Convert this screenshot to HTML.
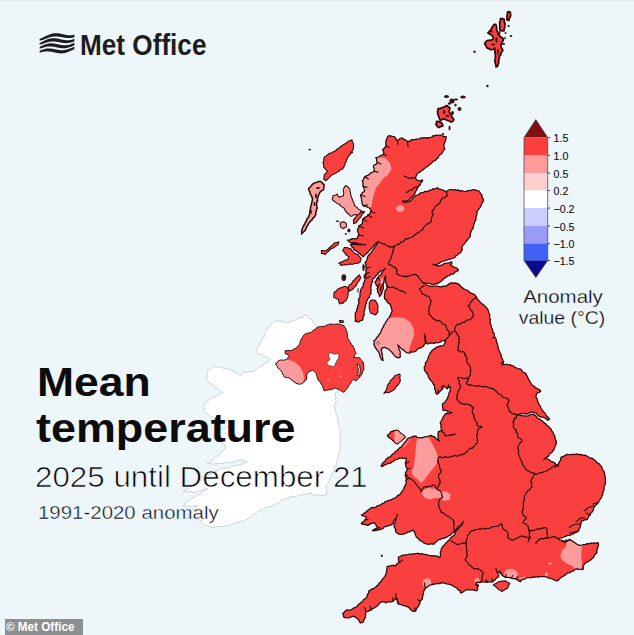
<!DOCTYPE html>
<html><head><meta charset="utf-8"><title>Mean temperature anomaly</title>
<style>
html,body{margin:0;padding:0}
body{width:634px;height:635px;overflow:hidden;background:#edf6f9;font-family:"Liberation Sans",sans-serif;position:relative;color:#111}
.abs{position:absolute;white-space:nowrap;line-height:1}
.tk{position:absolute;left:553.6px;font-size:10.6px;line-height:11px;color:#111;white-space:nowrap;-webkit-text-stroke:0.12px #111;transform-origin:left center;transform:scaleX(1.0)}
#mo{left:79.5px;top:30.6px;font-size:28.6px;font-weight:bold;color:#1d1d1d;transform-origin:left top;transform:scaleX(.915)}
#t1{left:37.4px;top:362.1px;font-size:41px;transform:scaleX(1.085);font-weight:bold;color:#0c0c0c;transform-origin:left top}
#t2{left:36.2px;top:408px;font-size:41px;transform:scaleX(1.095);font-weight:bold;color:#0c0c0c;transform-origin:left top}
#t3{left:35.4px;top:463.4px;font-size:28.6px;-webkit-text-stroke:0.7px #f3f9fb;transform:scaleX(1.096);color:#000;transform-origin:left top}
#t4{left:37.5px;top:503px;font-size:19.2px;-webkit-text-stroke:0.45px #f0f7fa;transform:scaleX(1.065);color:#000;transform-origin:left top}
#an{left:512.9px;top:286.6px;width:100px;text-align:center;font-size:18.7px;line-height:20.4px;color:#000;-webkit-text-stroke:0.3px #edf6f9;transform:scaleX(1.096)}
#an2{left:512.4px;top:308.3px;width:100px;text-align:center;font-size:18.7px;line-height:20.4px;color:#000;-webkit-text-stroke:0.3px #edf6f9;transform:scaleX(1.037)}
#cp{left:5px;top:619px;width:78px;height:16px;background:#8b9091;color:#fff;font-weight:bold;font-size:12px;line-height:15px}
#cp span{position:absolute;left:1px;top:1px;transform-origin:left top;transform:scaleX(.975)}
</style></head><body>
<svg width="634" height="635" viewBox="0 0 634 635" style="position:absolute;left:0;top:0"><defs><clipPath id="cm"><path d="M388.7,135.8 L390.6,135.8 L392.4,136.4 L394.2,136.6 L395.4,137.8 L396.2,139.3 L397.4,140.5 L398.8,139.8 L399.7,138.5 L401.3,138.1 L402.8,138.1 L403.7,139.5 L405.2,139.7 L406.6,140.6 L407.6,142.0 L408.7,141.0 L410.5,141.0 L411.5,139.7 L413.1,139.5 L414.7,139.8 L416.3,139.1 L417.9,139.0 L419.5,138.8 L421.0,137.9 L422.7,138.2 L424.2,137.7 L425.8,138.1 L427.4,137.6 L428.9,137.8 L430.5,137.4 L432.0,137.0 L433.0,135.7 L434.7,135.9 L436.0,135.0 L437.6,135.3 L439.2,135.2 L440.8,135.0 L442.3,135.8 L444.2,136.6 L446.2,136.6 L446.0,138.2 L445.5,139.7 L445.5,141.3 L444.5,142.4 L444.2,143.8 L443.9,145.2 L443.7,146.6 L444.6,147.8 L444.7,149.2 L443.3,150.6 L442.6,152.4 L441.5,153.9 L440.0,154.7 L438.8,155.9 L438.3,157.8 L436.8,158.6 L435.9,159.9 L434.6,160.9 L432.8,161.2 L432.0,162.6 L430.9,163.6 L429.6,164.4 L428.6,165.7 L427.3,166.5 L425.9,167.5 L424.6,168.6 L423.3,169.6 L421.8,170.5 L420.5,171.4 L419.3,172.4 L417.9,173.0 L417.0,174.4 L416.3,175.7 L415.5,176.9 L415.5,178.4 L416.8,179.9 L418.6,180.7 L420.0,181.0 L421.3,180.4 L422.6,180.0 L422.2,181.8 L420.6,182.9 L420.2,184.7 L418.7,186.0 L417.7,187.6 L417.0,189.4 L416.2,190.7 L415.2,192.0 L415.0,193.7 L413.9,194.9 L412.3,196.0 L411.2,197.5 L410.0,198.9 L408.8,199.9 L407.6,200.9 L406.0,201.2 L404.2,200.8 L402.5,201.2 L404.0,202.4 L406.0,202.6 L407.5,201.5 L409.5,201.6 L411.0,200.6 L412.1,199.2 L413.1,197.7 L414.4,196.5 L415.8,195.4 L417.5,195.0 L419.1,194.4 L420.2,192.8 L422.0,192.6 L423.6,192.3 L425.1,191.3 L426.9,191.7 L428.4,191.0 L429.8,190.1 L431.7,189.9 L433.0,188.7 L434.7,189.0 L436.3,188.2 L437.9,187.9 L439.2,189.2 L441.1,189.3 L442.6,190.3 L444.1,190.3 L445.2,191.4 L446.5,191.8 L447.6,190.5 L449.0,190.0 L450.5,189.5 L452.1,189.6 L453.6,190.0 L455.3,189.7 L456.8,190.3 L458.4,189.9 L459.9,191.1 L461.5,190.6 L463.0,191.0 L464.6,191.5 L466.2,191.3 L467.8,190.6 L469.4,190.7 L470.9,190.3 L472.5,189.9 L474.0,189.5 L475.6,190.2 L477.2,190.6 L478.9,191.0 L479.9,192.4 L480.9,193.8 L482.0,195.0 L482.0,197.0 L483.1,198.7 L483.6,200.5 L482.9,202.1 L481.8,203.5 L481.2,205.2 L480.4,207.0 L479.3,208.5 L478.0,210.0 L476.9,211.7 L477.0,213.7 L476.5,215.5 L475.9,217.3 L476.1,219.3 L475.0,221.0 L474.5,222.9 L473.8,224.6 L473.3,226.5 L473.1,228.6 L471.6,230.1 L471.0,232.0 L470.3,233.8 L470.4,235.9 L469.4,237.6 L468.3,238.7 L467.5,240.0 L466.3,241.0 L465.5,242.3 L464.6,243.7 L463.2,244.7 L462.3,246.2 L461.8,247.8 L462.3,249.5 L461.5,251.0 L460.6,252.7 L458.7,253.5 L457.6,255.0 L455.9,255.6 L455.1,257.2 L453.6,258.0 L452.1,258.5 L450.5,258.9 L448.9,259.3 L447.4,260.0 L445.7,260.3 L444.2,261.0 L442.6,261.5 L441.0,261.8 L439.8,262.9 L438.3,263.6 L437.0,264.6 L435.6,264.7 L434.3,264.5 L433.0,264.2 L434.5,265.2 L436.5,265.0 L437.9,266.2 L439.8,265.6 L441.8,265.2 L443.5,264.1 L445.3,263.3 L447.3,263.0 L448.9,263.0 L450.4,262.0 L452.0,262.0 L451.6,263.8 L450.5,265.2 L452.1,265.9 L453.5,266.9 L455.2,267.5 L456.6,268.0 L457.5,269.0 L458.4,270.0 L457.1,271.3 L455.2,271.9 L454.0,273.4 L452.5,274.1 L450.7,274.2 L449.5,275.6 L447.8,275.8 L446.7,276.9 L445.3,277.6 L443.9,278.4 L443.0,279.7 L441.5,280.8 L440.1,282.1 L438.4,282.9 L436.9,283.8 L435.2,283.9 L433.6,284.4 L432.0,284.5 L430.5,283.6 L428.9,283.7 L427.4,283.0 L425.7,283.5 L424.2,282.9 L425.6,283.6 L426.5,285.0 L428.0,285.6 L429.8,286.0 L431.7,286.4 L433.6,286.2 L435.2,286.2 L436.8,286.1 L438.4,286.4 L440.0,286.8 L441.6,286.9 L443.1,286.1 L444.6,286.0 L446.2,286.0 L447.7,284.9 L449.3,283.9 L451.0,282.9 L452.6,282.8 L454.1,283.4 L455.7,282.9 L457.5,283.6 L459.2,284.5 L460.4,286.0 L461.7,287.4 L463.3,288.4 L464.8,289.5 L466.7,290.0 L468.3,290.9 L469.6,292.4 L471.2,293.4 L473.0,293.9 L474.7,294.8 L476.0,296.3 L476.9,298.1 L478.0,299.7 L479.4,301.1 L480.7,302.6 L482.1,303.8 L483.6,304.8 L485.0,306.1 L486.2,307.4 L487.3,308.8 L488.3,310.3 L488.5,312.2 L489.4,313.7 L489.9,315.6 L489.4,317.6 L490.5,319.5 L490.2,321.5 L490.2,323.2 L490.9,324.7 L491.2,326.4 L491.7,328.0 L492.6,329.4 L492.6,331.1 L493.4,332.6 L494.5,334.0 L494.2,335.8 L494.9,337.3 L495.9,338.7 L496.3,340.4 L496.5,342.1 L497.3,343.6 L497.7,345.2 L498.2,346.7 L498.0,348.5 L498.9,349.9 L499.4,351.5 L500.3,353.0 L501.0,354.6 L501.3,356.3 L501.5,357.8 L502.5,359.0 L502.8,360.6 L503.7,361.8 L503.0,363.5 L502.0,365.0 L503.5,364.4 L505.2,364.5 L506.8,364.2 L508.3,365.0 L510.0,364.6 L511.4,365.7 L513.1,365.8 L514.5,367.0 L516.1,367.7 L517.7,368.5 L519.4,368.9 L521.1,369.4 L522.1,371.0 L523.3,372.3 L525.0,372.9 L526.2,374.0 L526.8,375.5 L527.6,376.9 L528.1,378.4 L528.9,379.8 L529.8,381.1 L530.5,382.5 L531.3,383.9 L532.4,385.5 L534.3,386.1 L535.2,387.9 L536.8,388.2 L538.2,389.1 L539.5,389.8 L540.7,391.0 L539.4,392.3 L537.6,392.6 L536.5,394.0 L536.1,395.6 L536.0,397.3 L537.1,398.7 L537.2,400.5 L538.0,401.9 L538.4,403.6 L539.6,405.1 L540.5,406.7 L541.2,408.5 L542.3,410.0 L543.2,411.4 L544.4,412.7 L545.5,413.9 L546.2,415.5 L547.4,416.7 L548.7,417.8 L549.4,419.4 L547.8,420.3 L546.3,419.0 L544.7,417.8 L543.2,417.1 L541.5,417.1 L540.0,416.6 L538.3,415.7 L537.1,414.3 L536.0,412.8 L534.6,412.7 L533.4,412.1 L532.0,412.0 L530.0,412.4 L528.4,413.6 L526.5,414.2 L524.7,413.6 L522.8,413.7 L521.0,413.6 L519.7,414.0 L518.4,414.5 L517.1,414.7 L519.1,415.0 L521.0,415.4 L522.8,415.9 L524.7,415.8 L526.5,416.2 L528.4,415.8 L530.2,414.8 L532.0,414.2 L533.7,414.4 L535.2,415.2 L536.2,416.5 L537.2,417.8 L538.4,418.9 L539.8,419.0 L540.7,420.0 L542.1,421.0 L543.5,422.0 L544.6,423.4 L546.2,424.1 L547.0,425.7 L548.7,426.4 L549.5,428.0 L551.0,428.9 L551.5,430.6 L552.8,431.9 L553.4,433.6 L554.1,435.2 L555.1,436.6 L554.9,438.5 L555.7,440.0 L556.5,441.5 L556.0,442.7 L556.4,443.9 L555.4,445.3 L554.9,446.9 L554.2,448.4 L553.8,450.0 L552.6,451.0 L551.9,452.5 L550.4,453.1 L549.4,454.3 L548.7,455.9 L547.4,456.9 L546.0,457.8 L547.2,459.2 L549.2,459.6 L550.3,461.2 L552.3,461.6 L554.0,462.5 L555.5,463.8 L556.5,465.4 L558.1,466.4 L558.3,464.5 L558.8,462.7 L559.9,461.2 L560.8,459.9 L560.6,458.2 L561.6,456.9 L563.5,456.4 L565.2,455.4 L566.8,454.3 L568.3,454.7 L569.8,454.8 L571.4,454.4 L572.9,454.3 L574.6,454.7 L576.3,453.7 L578.1,454.6 L579.8,454.3 L581.5,454.7 L583.2,455.4 L585.2,455.1 L586.8,456.0 L588.4,457.1 L590.0,458.2 L592.2,458.2 L593.7,459.5 L595.1,460.4 L596.1,461.6 L597.1,462.9 L598.8,463.4 L599.8,464.7 L601.0,465.9 L601.8,467.3 L602.3,468.9 L603.0,470.4 L604.1,471.6 L604.5,473.3 L604.8,475.1 L605.1,476.8 L605.4,478.5 L605.5,480.3 L605.3,482.1 L605.4,483.9 L604.7,485.5 L603.8,487.2 L604.1,489.0 L603.7,490.8 L602.8,492.4 L602.9,494.3 L601.8,495.9 L601.5,497.7 L600.4,498.8 L599.6,500.2 L598.9,501.6 L598.0,502.9 L596.9,504.2 L595.7,505.4 L594.4,506.5 L593.7,508.1 L593.2,510.0 L592.4,511.8 L590.8,513.1 L590.2,515.0 L588.8,516.1 L588.2,517.9 L587.2,519.3 L585.7,519.8 L584.1,519.9 L582.7,520.9 L581.1,521.0 L581.2,522.6 L581.0,524.1 L580.3,525.6 L580.2,527.1 L579.5,528.5 L578.8,529.9 L577.5,531.0 L576.8,532.4 L575.1,532.5 L573.8,533.9 L572.1,534.1 L570.7,535.0 L569.2,535.5 L567.5,535.4 L566.1,536.2 L564.6,536.7 L562.9,537.5 L561.2,538.0 L559.4,538.2 L557.5,538.3 L555.9,537.3 L554.2,536.8 L555.6,537.4 L557.0,538.0 L558.2,538.9 L559.4,539.8 L561.2,540.0 L562.8,540.9 L564.6,541.0 L566.2,540.0 L568.2,540.4 L569.8,539.3 L571.1,540.2 L572.3,541.1 L573.7,541.9 L575.0,542.8 L576.6,544.0 L578.3,544.9 L580.2,545.4 L582.0,545.0 L583.7,544.5 L585.5,544.3 L587.2,543.6 L589.0,543.8 L590.6,543.1 L592.4,543.3 L594.1,542.8 L595.5,543.4 L597.0,542.8 L598.4,542.8 L598.5,544.6 L598.2,546.3 L597.6,548.0 L597.0,549.7 L596.8,551.4 L596.7,553.2 L595.2,554.1 L594.2,555.5 L593.7,557.3 L592.4,558.4 L591.3,559.6 L590.0,560.3 L588.7,561.3 L587.2,561.8 L585.9,562.8 L584.6,563.8 L583.7,565.3 L582.9,566.7 L583.4,568.3 L582.8,569.7 L581.4,569.0 L579.8,569.5 L578.3,569.1 L576.8,568.8 L574.9,569.4 L573.5,571.0 L571.5,571.4 L570.0,572.7 L567.9,572.8 L566.3,574.0 L565.1,575.1 L563.8,575.9 L562.3,576.5 L561.1,577.5 L559.5,578.5 L558.6,580.2 L556.8,580.9 L555.2,580.4 L553.7,579.7 L552.2,579.0 L550.7,578.3 L548.9,578.2 L547.3,577.4 L545.7,576.5 L543.8,576.6 L542.0,576.7 L540.3,576.5 L538.5,577.1 L536.8,576.6 L535.1,577.1 L533.3,576.9 L531.7,577.7 L529.9,577.5 L528.1,577.5 L526.3,577.9 L524.8,579.2 L523.0,579.2 L521.3,580.1 L520.4,581.8 L518.9,581.1 L517.6,579.8 L516.0,579.2 L514.6,578.5 L512.9,578.7 L511.5,578.1 L510.0,577.7 L508.4,577.5 L506.8,577.1 L505.2,577.3 L503.4,576.3 L502.0,574.9 L500.6,573.6 L499.2,572.4 L497.3,571.8 L497.6,573.2 L498.3,574.4 L498.9,575.7 L498.2,577.1 L496.8,577.8 L495.7,578.9 L494.8,580.1 L493.4,580.8 L492.6,582.0 L491.0,581.8 L489.4,581.9 L487.8,582.0 L486.2,582.4 L484.6,581.8 L483.1,581.8 L481.5,582.0 L479.7,582.6 L477.8,582.1 L476.0,582.8 L476.7,584.0 L478.0,584.7 L478.4,586.0 L477.4,587.4 L477.7,589.3 L476.8,590.7 L475.2,590.6 L473.6,589.9 L472.0,589.9 L470.4,589.8 L468.9,589.8 L467.3,589.7 L465.7,589.9 L464.2,591.0 L462.7,592.2 L461.0,593.0 L460.2,592.0 L460.2,590.7 L458.3,590.1 L457.2,588.4 L455.5,587.5 L454.3,586.5 L452.8,585.9 L451.5,584.9 L450.0,584.4 L448.4,584.2 L446.8,583.9 L445.2,583.3 L443.7,582.8 L441.7,582.6 L439.8,583.7 L437.8,583.4 L435.8,583.6 L434.3,584.3 L432.6,584.1 L431.1,585.0 L429.5,585.2 L428.2,586.4 L426.7,587.4 L425.2,588.3 L424.6,589.7 L423.8,591.1 L423.5,592.7 L423.4,594.5 L422.5,596.1 L422.6,597.9 L422.1,599.3 L421.1,600.3 L420.0,601.3 L419.9,603.2 L419.3,604.9 L418.3,606.5 L417.1,607.8 L416.3,609.3 L415.7,610.9 L413.9,611.3 L412.2,610.9 L410.8,610.0 L409.8,608.6 L408.7,607.4 L407.1,606.6 L405.4,605.9 L403.5,605.7 L401.9,604.8 L400.1,604.4 L398.3,603.9 L397.5,602.5 L397.3,600.9 L396.7,599.5 L396.6,597.9 L395.4,599.0 L394.2,600.1 L393.1,601.3 L391.7,601.9 L390.1,602.0 L388.5,601.6 L387.1,602.2 L385.6,602.8 L384.1,601.8 L382.5,601.7 L381.0,602.2 L379.5,602.9 L378.9,604.5 L377.7,605.4 L376.6,606.5 L375.2,607.3 L373.9,608.1 L372.4,608.7 L371.4,610.0 L369.6,610.4 L368.0,611.4 L366.2,611.8 L365.5,613.5 L365.7,615.3 L365.4,617.0 L364.7,618.4 L363.9,619.8 L363.6,621.3 L362.2,622.7 L360.2,623.0 L359.6,621.4 L358.6,620.0 L357.6,618.7 L356.1,617.8 L354.7,616.9 L353.2,616.1 L351.5,616.7 L349.8,617.6 L348.0,617.8 L346.6,617.5 L345.0,617.8 L343.7,617.0 L343.3,615.2 L342.8,613.5 L344.1,612.5 L345.1,611.1 L346.3,610.0 L347.8,609.9 L349.4,610.1 L350.9,609.8 L352.4,609.1 L353.5,607.9 L355.2,607.7 L356.4,606.7 L357.6,605.7 L358.6,604.2 L360.1,603.4 L361.3,602.2 L362.8,601.3 L363.5,599.7 L365.0,598.7 L366.4,597.7 L367.1,596.1 L367.5,594.3 L368.7,592.8 L368.8,590.9 L370.6,590.2 L372.1,588.8 L374.0,588.3 L375.6,587.3 L376.7,585.8 L378.3,584.8 L379.2,583.1 L380.5,582.0 L381.6,580.7 L382.4,579.1 L383.6,577.9 L384.8,576.3 L385.8,574.7 L386.2,572.7 L386.9,571.2 L386.6,569.6 L387.2,568.2 L387.1,566.6 L388.8,566.2 L390.5,565.8 L392.2,565.3 L394.0,565.3 L395.7,565.8 L396.5,564.3 L397.8,563.2 L399.2,562.3 L398.5,560.6 L398.6,558.8 L398.3,557.1 L400.2,556.5 L401.8,555.4 L403.3,555.2 L404.8,554.9 L406.4,554.9 L407.9,554.5 L409.6,554.0 L411.3,554.0 L413.1,554.1 L414.8,553.6 L416.6,553.5 L418.3,553.2 L420.1,554.1 L421.8,553.6 L423.5,554.3 L425.3,554.3 L427.0,554.8 L428.7,555.4 L430.4,555.6 L432.1,555.9 L433.9,555.7 L435.6,556.2 L437.2,556.1 L438.4,556.8 L439.7,557.6 L440.4,556.1 L440.5,554.4 L440.3,552.5 L441.0,550.7 L441.3,548.9 L442.0,547.4 L443.1,546.1 L444.4,545.0 L445.3,543.5 L446.7,542.5 L447.7,541.1 L449.2,540.2 L450.0,538.6 L451.2,537.5 L452.4,536.4 L453.9,535.5 L454.9,533.9 L455.5,532.1 L456.4,530.5 L457.9,529.2 L459.0,527.8 L460.2,526.4 L461.6,525.2 L462.6,523.7 L462.5,522.3 L463.4,521.3 L462.5,522.6 L461.5,523.7 L460.8,525.2 L459.4,526.0 L457.7,526.9 L457.0,528.9 L455.5,530.0 L454.5,531.6 L452.9,532.6 L451.5,533.9 L450.2,535.3 L448.3,535.9 L446.8,537.1 L445.0,537.8 L443.3,538.5 L441.3,538.6 L440.2,539.7 L438.6,539.7 L437.4,540.6 L436.4,542.0 L434.8,542.7 L433.9,544.1 L432.2,544.1 L430.4,543.6 L428.7,544.3 L427.0,544.1 L425.1,543.5 L423.4,542.6 L421.9,541.1 L420.0,540.6 L419.0,539.2 L417.7,538.1 L416.4,537.0 L415.7,535.4 L415.0,533.6 L414.5,531.7 L413.1,530.2 L411.3,530.7 L409.8,531.9 L407.9,531.9 L406.3,533.1 L404.6,533.7 L402.8,534.2 L400.9,534.5 L398.9,534.1 L397.2,533.2 L395.7,531.9 L395.5,530.1 L395.3,528.3 L394.1,526.8 L394.0,525.0 L395.0,523.5 L395.0,521.7 L395.8,520.2 L396.0,518.5 L394.5,519.7 L393.4,521.2 L393.2,523.4 L391.6,524.6 L389.9,525.4 L388.1,525.6 L386.4,526.3 L384.4,526.7 L383.2,528.5 L381.3,529.1 L379.5,529.8 L377.7,529.6 L376.1,530.7 L374.3,530.5 L372.6,530.6 L373.8,529.6 L375.3,529.1 L376.8,528.5 L377.8,527.2 L376.3,526.0 L375.7,524.1 L374.3,522.8 L372.5,523.2 L370.7,523.7 L369.1,524.7 L367.4,525.4 L366.0,524.5 L364.3,524.7 L362.8,524.2 L361.3,523.7 L362.2,522.3 L363.8,521.6 L364.7,520.2 L365.6,518.5 L366.5,516.8 L364.7,516.5 L362.9,516.0 L361.3,515.0 L362.7,514.3 L364.0,513.4 L365.3,512.6 L366.5,511.5 L367.8,510.3 L369.4,509.2 L370.8,508.1 L372.5,507.4 L374.3,507.7 L376.0,507.2 L377.2,505.8 L379.0,505.4 L380.7,504.8 L382.1,503.7 L383.9,503.0 L385.4,501.5 L387.3,501.1 L388.7,500.2 L390.5,500.2 L391.9,499.3 L393.4,498.5 L394.9,498.0 L396.2,497.2 L397.3,495.9 L398.6,495.1 L400.0,494.3 L400.9,493.1 L401.7,491.7 L402.9,490.7 L403.6,488.9 L404.2,487.0 L405.5,485.5 L405.6,484.0 L406.5,482.5 L405.7,480.9 L406.4,479.4 L406.2,477.7 L405.3,476.0 L405.5,474.2 L405.6,472.3 L406.9,470.8 L407.3,469.0 L406.4,467.4 L405.6,465.7 L405.5,463.8 L405.4,462.0 L406.3,460.4 L406.4,458.6 L405.0,458.2 L403.4,458.6 L402.0,457.8 L400.6,458.5 L398.8,458.1 L397.6,459.4 L396.0,459.5 L394.7,460.3 L393.5,461.3 L391.9,461.8 L390.8,463.0 L389.0,463.4 L387.2,463.8 L385.6,464.7 L384.1,465.2 L382.8,466.2 L381.2,466.4 L381.7,464.8 L382.5,463.3 L383.8,462.1 L385.2,461.2 L385.8,459.4 L387.3,458.6 L388.4,457.0 L390.5,456.8 L391.6,455.2 L392.7,453.8 L394.5,453.4 L395.2,451.5 L396.8,450.8 L398.1,449.5 L399.2,448.0 L401.0,447.2 L402.0,445.6 L403.2,444.3 L404.3,442.9 L405.4,441.7 L406.6,440.4 L407.3,438.7 L409.0,437.9 L410.8,437.5 L412.5,436.6 L414.2,436.0 L416.1,436.2 L417.5,437.6 L419.4,437.8 L421.1,437.7 L422.9,437.7 L424.5,436.8 L426.3,436.9 L428.0,436.4 L429.8,435.9 L431.5,435.4 L432.7,436.5 L434.4,436.7 L435.5,438.0 L436.9,439.0 L438.1,440.3 L439.4,441.4 L438.4,439.7 L438.4,437.8 L437.8,436.0 L438.2,434.6 L438.0,433.2 L438.3,431.8 L439.6,431.3 L440.7,430.5 L441.8,429.7 L441.1,428.2 L440.8,426.6 L441.2,424.8 L440.2,423.4 L440.8,421.7 L441.7,420.2 L442.6,418.6 L443.2,416.8 L444.4,415.3 L445.7,413.9 L447.2,413.0 L449.0,413.5 L450.5,412.5 L449.0,411.7 L447.5,411.1 L445.9,410.4 L444.2,410.4 L442.6,410.0 L443.1,408.4 L442.6,406.9 L442.5,405.3 L442.6,403.7 L444.3,402.7 L445.5,401.4 L446.5,399.7 L447.6,398.5 L447.7,396.9 L448.6,395.7 L448.9,394.2 L449.1,392.6 L450.1,391.2 L450.4,389.6 L449.9,387.8 L450.5,386.3 L448.6,387.1 L447.3,388.7 L446.0,387.9 L444.9,386.9 L444.2,385.5 L443.2,386.7 L442.8,388.3 L441.8,389.5 L440.5,390.9 L439.1,392.3 L437.9,393.8 L436.5,393.9 L435.6,392.9 L435.6,391.0 L434.7,389.1 L434.6,387.2 L434.4,385.3 L433.3,384.2 L432.7,382.6 L431.8,381.4 L430.6,380.3 L429.5,378.7 L428.4,377.1 L428.0,375.2 L426.9,373.7 L426.1,372.1 L424.8,370.7 L424.3,368.9 L424.2,367.2 L425.2,365.8 L425.4,364.2 L425.5,362.6 L426.8,361.3 L427.5,359.8 L428.2,358.2 L428.4,356.5 L429.3,355.0 L430.1,353.1 L431.3,351.5 L432.6,350.0 L434.2,348.9 L435.8,347.9 L437.4,346.8 L439.0,346.4 L440.5,345.8 L442.2,346.0 L443.7,345.2 L444.2,343.9 L445.2,342.8 L446.0,341.6 L445.1,340.6 L443.7,340.5 L442.0,340.7 L440.6,341.9 L439.1,342.5 L437.4,342.8 L435.8,342.4 L434.2,343.4 L432.6,343.2 L431.0,342.8 L429.4,343.4 L427.8,344.0 L426.3,342.8 L426.1,341.2 L425.4,339.7 L424.9,338.1 L425.2,336.4 L425.6,338.2 L425.0,340.0 L425.4,341.8 L425.4,343.6 L424.0,344.7 L423.5,346.5 L421.7,347.0 L420.2,348.2 L418.3,348.5 L416.9,349.8 L415.6,351.4 L413.6,352.0 L411.9,352.1 L410.3,351.5 L410.2,352.7 L409.2,353.2 L407.8,353.0 L406.4,352.6 L404.9,351.3 L403.6,349.8 L401.7,349.1 L400.3,347.6 L399.0,346.2 L397.6,344.9 L398.6,346.7 L398.7,348.7 L399.4,349.9 L400.0,351.2 L400.3,352.6 L399.9,354.1 L400.4,355.5 L400.3,357.0 L399.3,357.6 L398.1,357.6 L396.2,357.2 L394.8,355.9 L393.6,354.6 L392.6,353.2 L391.3,351.7 L389.8,350.4 L388.3,349.1 L386.5,348.2 L384.9,347.4 L383.2,347.6 L381.8,348.4 L381.0,349.8 L381.6,351.1 L381.6,352.6 L382.4,354.0 L382.0,355.6 L382.7,357.0 L382.6,358.7 L383.2,360.3 L381.6,359.8 L380.8,358.1 L379.9,356.5 L379.9,354.9 L379.2,353.5 L378.8,352.0 L377.7,350.9 L376.6,349.7 L376.0,348.2 L374.8,347.2 L374.7,345.5 L373.8,344.3 L374.3,342.4 L373.8,340.5 L375.2,340.0 L376.0,338.8 L376.9,337.4 L378.1,336.2 L378.9,334.7 L380.1,333.5 L380.8,332.0 L381.3,330.5 L382.0,329.0 L382.7,327.6 L383.6,326.3 L384.1,324.7 L385.2,323.6 L385.7,321.9 L387.0,320.6 L387.6,318.9 L389.3,317.7 L390.0,315.7 L390.8,314.2 L391.4,312.5 L392.3,311.0 L391.6,309.2 L391.2,307.3 L390.7,305.5 L389.7,303.9 L388.1,302.9 L386.8,301.5 L386.5,299.9 L384.8,299.1 L384.4,297.6 L384.4,295.8 L384.8,294.1 L384.9,292.3 L385.2,290.5 L386.6,289.1 L387.2,287.3 L387.1,285.7 L386.8,284.3 L385.8,283.0 L385.9,281.2 L385.1,279.5 L385.7,277.7 L385.6,276.0 L385.0,277.3 L384.5,278.7 L384.0,280.0 L384.1,281.8 L383.4,283.5 L383.1,285.2 L383.4,287.0 L383.4,288.9 L382.3,290.4 L382.2,292.3 L381.6,294.0 L380.5,295.2 L379.4,296.5 L379.2,294.8 L378.7,293.3 L377.6,292.0 L377.7,290.5 L377.0,289.0 L377.8,287.5 L377.2,286.0 L376.1,284.9 L375.6,283.4 L375.0,282.0 L376.3,280.7 L376.8,278.8 L378.0,277.4 L378.8,276.0 L380.4,275.2 L381.4,274.0 L382.0,272.4 L383.0,270.9 L384.2,269.6 L385.4,268.4 L384.1,269.4 L382.7,270.3 L381.0,270.6 L380.1,271.9 L378.3,272.4 L378.0,274.3 L376.5,275.0 L375.4,276.7 L374.1,278.1 L372.5,279.3 L372.6,281.3 L371.7,283.1 L371.3,285.0 L370.9,286.7 L370.8,288.3 L371.1,290.0 L370.9,291.8 L371.0,293.7 L369.6,295.1 L369.4,297.2 L367.9,298.4 L367.5,300.1 L366.2,301.4 L366.6,303.3 L365.5,304.7 L365.5,306.3 L364.9,307.9 L364.8,309.5 L364.2,311.0 L363.9,312.6 L364.2,314.2 L363.8,315.8 L362.8,317.3 L363.1,318.9 L362.1,320.3 L360.2,320.6 L359.2,322.0 L357.8,322.1 L356.6,321.0 L355.2,321.3 L355.4,319.4 L355.4,317.6 L355.2,315.7 L355.3,314.0 L355.6,312.4 L356.9,311.1 L356.7,309.3 L357.6,307.9 L357.6,305.9 L358.6,304.2 L359.0,302.3 L358.3,300.2 L359.2,298.4 L360.1,296.7 L359.9,294.7 L360.1,292.8 L360.6,291.0 L360.7,289.6 L361.5,288.5 L362.2,287.3 L363.4,286.0 L363.2,284.1 L364.1,282.6 L364.5,280.8 L365.3,279.3 L366.5,277.9 L365.7,276.7 L365.7,275.3 L365.5,274.0 L366.3,272.2 L365.7,270.2 L366.5,268.4 L365.6,266.6 L366.0,264.5 L365.0,262.7 L366.3,261.2 L367.1,259.4 L367.4,257.4 L368.1,255.9 L369.1,254.6 L370.2,253.4 L371.6,252.4 L372.2,250.7 L373.2,249.4 L374.4,248.3 L375.0,246.7 L376.2,245.6 L376.5,244.0 L377.6,242.8 L378.6,241.6 L377.1,242.5 L376.0,243.8 L374.7,244.6 L373.8,245.9 L372.8,247.0 L371.7,248.2 L370.5,249.4 L369.4,250.6 L368.4,251.8 L367.2,252.8 L366.2,254.0 L364.6,255.0 L363.6,256.6 L362.0,256.0 L360.9,254.6 L359.4,253.8 L358.3,252.3 L356.9,251.2 L355.2,250.4 L353.8,249.5 L353.3,247.7 L351.8,247.0 L351.5,245.6 L350.4,244.6 L351.9,244.1 L353.5,244.4 L355.0,244.3 L356.5,244.4 L358.0,245.0 L359.8,244.5 L361.5,245.0 L360.3,243.9 L358.7,244.0 L357.4,243.4 L355.6,242.6 L353.6,242.6 L352.0,242.8 L350.4,242.6 L349.0,241.8 L348.5,240.7 L347.3,240.2 L349.0,240.0 L350.6,239.7 L352.0,238.6 L353.6,238.8 L355.2,238.6 L356.8,238.6 L357.8,237.6 L357.8,235.9 L359.0,235.0 L358.6,233.6 L358.0,232.2 L357.6,230.8 L357.7,229.1 L358.6,227.6 L359.0,226.0 L360.0,225.1 L361.2,224.5 L362.3,223.7 L362.4,222.1 L362.6,220.5 L363.0,219.0 L364.1,217.9 L365.5,217.1 L367.0,216.4 L367.8,215.0 L369.3,214.2 L370.3,213.0 L371.0,211.5 L370.6,209.5 L369.4,207.9 L367.7,207.5 L366.4,206.2 L364.5,206.4 L363.0,205.5 L362.1,203.8 L362.0,201.8 L361.5,200.0 L361.5,198.3 L360.8,196.6 L360.7,194.9 L361.8,193.8 L362.5,192.4 L364.1,191.7 L364.7,190.2 L364.1,188.9 L363.6,187.5 L363.1,186.2 L362.9,184.4 L363.0,182.5 L362.3,180.7 L363.6,179.7 L363.9,178.1 L364.7,176.8 L366.2,175.9 L367.9,175.3 L369.4,174.4 L370.7,172.9 L372.5,172.3 L374.1,171.3 L374.2,169.6 L373.9,168.0 L373.3,166.5 L374.3,164.8 L376.3,164.2 L377.3,162.6 L376.6,161.1 L376.8,159.3 L375.7,157.9 L377.3,157.3 L378.9,157.0 L380.3,155.7 L382.1,155.0 L383.6,153.9 L383.8,152.3 L383.0,150.8 L382.8,149.2 L384.2,148.4 L385.1,147.2 L386.0,146.0 L385.8,144.2 L385.8,142.3 L386.0,140.5 L386.8,138.9 L387.4,137.3 L388.3,135.8Z"/></clipPath><clipPath id="cn"><path d="M317.0,327.4 L318.7,326.9 L320.5,326.6 L322.2,326.6 L324.0,326.5 L325.6,325.6 L327.3,324.8 L329.1,324.5 L330.9,323.9 L332.6,324.3 L334.4,324.2 L336.1,324.1 L337.9,323.9 L340.0,324.2 L341.9,325.1 L343.9,325.6 L344.9,327.2 L345.9,328.9 L346.5,330.8 L347.2,332.8 L347.4,334.8 L347.4,336.9 L347.9,338.6 L348.9,340.1 L349.8,341.6 L350.9,343.0 L351.5,344.6 L352.9,345.9 L353.7,347.4 L354.4,349.0 L354.9,350.5 L355.3,352.0 L356.1,353.4 L355.0,354.7 L354.1,356.1 L353.5,357.7 L355.5,357.3 L357.6,357.8 L359.6,357.7 L360.6,359.2 L361.9,360.6 L363.0,362.0 L363.6,364.0 L363.6,366.1 L363.9,368.1 L363.7,370.2 L362.4,372.1 L362.2,374.2 L360.8,375.4 L359.8,377.0 L358.7,378.5 L357.1,379.9 L355.2,381.1 L354.6,379.7 L353.5,378.8 L352.6,380.1 L351.5,381.3 L350.9,382.9 L349.5,384.5 L348.6,386.4 L347.4,388.1 L346.3,389.6 L345.0,390.9 L343.9,392.4 L342.4,391.6 L340.9,390.9 L339.6,389.8 L337.8,389.4 L336.2,388.4 L334.4,388.1 L332.8,389.1 L331.1,389.6 L329.2,389.8 L327.4,390.0 L325.8,390.6 L324.0,390.7 L323.5,389.0 L322.8,387.2 L322.3,385.5 L321.1,384.1 L320.5,382.2 L318.8,381.1 L317.9,379.4 L317.3,377.4 L316.5,375.4 L316.2,373.3 L315.1,372.1 L313.7,371.2 L312.7,369.9 L311.0,370.9 L309.2,371.6 L307.7,373.2 L306.6,375.0 L306.8,377.2 L306.6,379.4 L305.1,380.8 L303.5,382.0 L302.3,383.7 L300.6,384.1 L298.8,384.1 L297.1,383.7 L295.5,383.0 L294.4,381.8 L292.8,381.1 L291.7,379.9 L290.3,379.0 L289.3,377.7 L287.5,377.5 L285.8,377.4 L284.1,376.8 L283.5,375.4 L282.6,374.1 L282.4,372.5 L281.1,370.9 L279.7,369.3 L278.0,368.1 L277.5,366.5 L276.4,365.1 L275.4,363.8 L277.1,363.0 L278.0,361.1 L279.7,360.3 L281.4,359.9 L283.3,360.3 L285.0,359.9 L286.7,359.4 L287.9,357.7 L289.3,356.0 L288.1,354.8 L286.5,354.2 L285.0,353.4 L285.3,352.1 L285.0,350.8 L287.0,350.6 L289.0,350.5 L291.0,350.8 L292.7,349.9 L294.3,348.8 L296.2,348.2 L297.3,346.7 L298.9,345.5 L299.7,343.8 L300.4,341.7 L301.0,339.6 L302.3,337.8 L303.1,336.1 L304.4,334.7 L305.8,333.4 L307.6,333.4 L309.2,332.7 L311.0,332.6 L312.3,331.3 L313.6,330.0 L315.3,329.1 L316.5,328.6Z"/></clipPath><clipPath id="ca"><path d="M387.3,436.0 L388.3,434.4 L389.9,433.4 L390.8,431.7 L392.4,431.5 L393.7,430.5 L395.4,430.8 L396.8,430.0 L398.5,430.9 L399.7,432.4 L401.2,433.5 L402.7,434.6 L404.1,435.7 L405.5,436.9 L404.5,438.2 L403.1,439.1 L402.0,440.4 L400.5,441.5 L399.0,442.6 L397.7,443.9 L395.8,443.3 L394.2,442.1 L393.3,440.7 L391.9,439.9 L390.8,438.7 L389.4,438.1 L388.5,436.8Z"/></clipPath></defs><path d="M316.2,325.2 L314.7,323.8 L313.2,322.4 L312.5,320.4 L311.0,319.0 L309.0,318.1 L307.7,316.3 L306.0,315.0 L304.0,316.1 L302.1,317.4 L299.8,317.7 L297.7,318.5 L295.8,320.0 L293.5,320.2 L291.7,321.1 L290.1,322.3 L288.0,322.5 L285.9,322.7 L284.0,321.9 L282.0,321.5 L280.0,320.6 L277.8,321.1 L275.8,320.2 L274.4,322.1 L272.3,323.4 L270.8,325.2 L269.0,326.4 L268.2,328.3 L267.1,330.0 L265.7,331.5 L264.2,333.4 L264.6,336.0 L263.2,337.9 L261.5,339.7 L260.9,342.3 L259.4,344.2 L258.7,346.1 L257.6,347.8 L256.0,349.2 L257.4,350.8 L257.9,352.8 L259.4,354.3 L261.7,354.7 L263.6,356.1 L265.7,356.8 L267.3,357.8 L269.2,358.3 L270.8,359.3 L269.1,360.5 L267.8,362.3 L265.7,363.0 L263.9,364.8 L261.7,366.0 L259.4,366.9 L257.6,368.0 L256.1,369.5 L254.4,370.7 L252.8,371.4 L251.0,371.4 L249.3,371.9 L247.6,372.0 L246.0,372.2 L244.3,371.9 L242.7,372.9 L241.6,374.2 L240.5,375.7 L238.6,374.7 L237.2,373.1 L235.4,371.9 L233.3,371.0 L231.3,369.7 L229.0,369.4 L227.0,368.6 L224.8,368.8 L222.8,368.0 L221.3,367.0 L219.4,367.8 L217.8,366.9 L216.1,366.7 L214.4,366.3 L212.3,367.3 L210.9,369.3 L208.7,370.1 L206.8,371.4 L207.4,373.6 L206.6,375.8 L206.4,378.0 L206.8,380.2 L208.3,381.5 L209.6,383.1 L211.7,383.7 L213.1,385.2 L214.6,386.7 L216.4,387.8 L218.1,389.1 L219.9,390.2 L221.2,391.9 L223.2,392.8 L220.7,393.3 L218.7,394.9 L216.3,395.7 L214.3,397.4 L211.8,397.9 L209.7,399.3 L207.9,400.9 L205.7,402.1 L204.3,404.2 L203.8,406.1 L204.6,407.9 L204.5,409.8 L204.3,411.7 L205.7,413.2 L207.9,413.7 L209.1,415.5 L210.6,416.8 L212.9,417.1 L215.0,417.8 L217.0,419.0 L219.5,419.1 L221.6,420.7 L224.0,421.0 L226.1,421.0 L228.1,421.7 L230.0,422.4 L232.0,423.0 L230.2,423.9 L229.4,426.0 L227.5,426.8 L226.0,428.0 L224.2,428.9 L222.2,429.5 L220.5,430.6 L219.0,432.0 L217.8,433.8 L218.0,436.1 L217.0,438.0 L218.4,439.2 L219.8,440.5 L221.0,442.0 L222.2,443.7 L223.7,445.0 L225.7,445.8 L224.9,448.0 L223.6,449.8 L222.3,451.7 L220.7,453.4 L219.1,455.0 L217.2,455.9 L215.3,457.1 L213.8,458.7 L211.8,459.7 L210.6,461.5 L208.5,462.3 L206.8,463.5 L209.1,463.3 L211.3,463.6 L213.6,464.1 L215.8,463.8 L218.1,463.5 L220.2,463.3 L222.4,463.2 L224.5,463.1 L226.5,462.0 L228.7,463.0 L230.8,462.2 L232.9,462.1 L235.0,461.7 L237.0,461.1 L238.8,460.1 L240.9,459.7 L243.1,460.4 L245.3,460.9 L247.2,462.2 L244.8,462.7 L242.7,464.1 L240.4,464.7 L238.0,465.1 L235.7,465.8 L233.3,466.0 L231.2,466.6 L229.2,467.4 L227.1,467.9 L225.0,468.1 L222.9,468.6 L220.7,468.5 L218.7,469.7 L216.8,471.2 L214.1,471.2 L212.2,472.6 L210.3,474.2 L208.0,474.8 L206.4,476.4 L204.5,477.5 L202.7,478.8 L201.1,480.3 L198.7,480.8 L196.8,481.9 L195.4,483.7 L193.3,485.0 L191.2,486.2 L189.4,487.9 L187.3,489.2 L185.0,490.1 L182.8,491.2 L184.9,491.1 L186.8,492.2 L188.9,491.5 L191.0,491.6 L192.9,492.5 L195.2,492.6 L197.2,491.5 L199.3,490.4 L201.5,490.4 L203.5,489.1 L205.9,489.3 L208.0,488.7 L205.7,489.3 L203.7,490.7 L201.9,492.1 L200.2,493.9 L198.1,494.9 L196.0,496.0 L194.2,497.7 L191.7,498.3 L189.9,499.9 L187.9,501.3 L185.9,502.7 L184.7,504.9 L182.8,506.4 L184.9,505.8 L187.2,506.5 L189.3,506.5 L191.5,506.1 L193.6,505.9 L195.8,505.7 L197.9,505.1 L196.1,506.2 L195.0,508.1 L193.1,509.2 L191.7,510.8 L190.0,512.0 L189.2,514.4 L187.9,516.4 L186.0,518.0 L188.0,517.5 L190.0,517.3 L192.0,517.7 L194.1,517.8 L196.0,517.0 L197.8,518.2 L199.1,520.0 L201.2,520.7 L201.6,522.5 L202.6,523.9 L204.1,524.9 L206.3,525.4 L208.5,526.0 L210.6,526.7 L212.6,527.8 L214.7,527.0 L216.8,526.6 L219.0,526.8 L221.1,526.3 L223.3,526.5 L225.4,526.1 L227.5,525.2 L229.6,524.9 L231.8,524.4 L234.0,523.9 L235.8,522.2 L238.1,522.1 L240.3,521.6 L242.6,521.2 L244.7,520.4 L246.7,519.3 L248.6,518.5 L250.1,517.0 L251.5,515.5 L253.7,515.1 L255.2,513.6 L257.0,512.0 L259.3,511.1 L260.9,509.3 L263.2,509.2 L265.1,507.8 L267.2,507.1 L269.4,506.5 L271.7,506.4 L273.8,505.3 L275.6,503.9 L277.9,503.6 L279.5,501.8 L281.4,500.4 L283.6,499.4 L285.9,499.2 L288.0,498.4 L289.8,496.8 L292.1,496.5 L294.3,496.6 L296.5,496.5 L298.5,495.7 L300.6,495.1 L302.7,494.5 L304.9,494.5 L306.9,493.5 L309.1,493.7 L311.3,493.4 L313.2,495.1 L315.4,495.0 L317.6,495.1 L319.9,495.1 L322.1,495.6 L324.3,494.8 L326.6,494.8 L326.8,492.6 L326.5,490.4 L325.7,488.3 L326.4,486.0 L327.5,483.9 L328.9,482.0 L329.6,479.7 L330.4,477.5 L331.8,475.4 L332.4,473.1 L333.6,471.0 L334.3,468.8 L334.7,466.4 L336.5,464.6 L336.6,462.1 L337.6,460.0 L337.9,457.9 L338.5,455.8 L339.4,453.8 L339.1,451.5 L340.2,449.5 L340.0,447.3 L340.1,445.0 L340.2,442.8 L340.3,440.5 L339.7,438.2 L340.4,436.0 L340.2,433.7 L340.7,431.5 L339.5,429.7 L340.0,427.5 L338.5,425.8 L338.4,423.7 L337.9,421.3 L337.8,418.9 L337.1,416.6 L336.5,414.2 L335.7,412.0 L335.4,409.6 L334.9,407.3 L334.2,405.0 L335.6,403.2 L336.4,401.0 L335.5,399.2 L335.8,397.2 L335.0,395.4 L335.0,393.4 L336.3,392.0 L338.3,391.3 L339.6,389.8 L337.9,389.2 L336.2,388.6 L334.4,388.1 L332.6,388.3 L330.8,388.7 L329.2,389.8 L327.5,390.2 L325.7,390.2 L324.0,390.7 L323.4,389.0 L322.9,387.2 L322.3,385.5 L321.4,383.8 L320.0,382.5 L319.0,380.9 L317.9,379.4 L317.3,377.4 L317.4,375.2 L316.2,373.3 L314.6,371.4 L312.7,369.9 L310.7,370.3 L309.2,371.6 L307.4,372.9 L306.6,375.0 L306.9,377.2 L306.6,379.4 L305.1,380.8 L303.3,381.8 L302.3,383.7 L300.6,383.2 L298.8,384.2 L297.1,383.7 L295.4,383.3 L294.2,382.0 L292.8,381.1 L290.6,379.8 L289.3,377.7 L287.5,377.8 L285.7,377.7 L284.1,376.8 L283.5,374.6 L282.4,372.5 L281.2,370.8 L279.9,369.2 L278.0,368.1 L276.7,366.9 L276.5,365.1 L275.4,363.8 L277.0,362.8 L278.0,361.1 L279.7,360.3 L282.1,360.5 L284.5,360.3 L286.7,359.4 L287.7,357.5 L289.3,356.0 L288.2,354.6 L286.4,354.4 L285.0,353.4 L285.0,352.1 L285.0,350.8 L287.0,351.5 L289.0,351.3 L291.0,350.8 L292.5,349.5 L294.4,349.0 L296.2,348.2 L297.4,346.7 L298.4,345.1 L299.7,343.8 L300.2,341.6 L301.2,339.7 L302.3,337.8 L303.7,336.5 L304.1,334.4 L305.8,333.4 L307.5,333.2 L309.3,332.8 L311.0,332.6 L312.0,330.9 L313.7,330.1 L315.3,329.1 L317.0,327.4Z" fill="#ffffff" stroke="#cdd3d8" stroke-width="1" stroke-linejoin="round"/><path d="M317.0,327.4 L318.7,326.9 L320.5,326.6 L322.2,326.6 L324.0,326.5 L325.6,325.6 L327.3,324.8 L329.1,324.5 L330.9,323.9 L332.6,324.3 L334.4,324.2 L336.1,324.1 L337.9,323.9 L340.0,324.2 L341.9,325.1 L343.9,325.6 L344.9,327.2 L345.9,328.9 L346.5,330.8 L347.2,332.8 L347.4,334.8 L347.4,336.9 L347.9,338.6 L348.9,340.1 L349.8,341.6 L350.9,343.0 L351.5,344.6 L352.9,345.9 L353.7,347.4 L354.4,349.0 L354.9,350.5 L355.3,352.0 L356.1,353.4 L355.0,354.7 L354.1,356.1 L353.5,357.7 L355.5,357.3 L357.6,357.8 L359.6,357.7 L360.6,359.2 L361.9,360.6 L363.0,362.0 L363.6,364.0 L363.6,366.1 L363.9,368.1 L363.7,370.2 L362.4,372.1 L362.2,374.2 L360.8,375.4 L359.8,377.0 L358.7,378.5 L357.1,379.9 L355.2,381.1 L354.6,379.7 L353.5,378.8 L352.6,380.1 L351.5,381.3 L350.9,382.9 L349.5,384.5 L348.6,386.4 L347.4,388.1 L346.3,389.6 L345.0,390.9 L343.9,392.4 L342.4,391.6 L340.9,390.9 L339.6,389.8 L337.8,389.4 L336.2,388.4 L334.4,388.1 L332.8,389.1 L331.1,389.6 L329.2,389.8 L327.4,390.0 L325.8,390.6 L324.0,390.7 L323.5,389.0 L322.8,387.2 L322.3,385.5 L321.1,384.1 L320.5,382.2 L318.8,381.1 L317.9,379.4 L317.3,377.4 L316.5,375.4 L316.2,373.3 L315.1,372.1 L313.7,371.2 L312.7,369.9 L311.0,370.9 L309.2,371.6 L307.7,373.2 L306.6,375.0 L306.8,377.2 L306.6,379.4 L305.1,380.8 L303.5,382.0 L302.3,383.7 L300.6,384.1 L298.8,384.1 L297.1,383.7 L295.5,383.0 L294.4,381.8 L292.8,381.1 L291.7,379.9 L290.3,379.0 L289.3,377.7 L287.5,377.5 L285.8,377.4 L284.1,376.8 L283.5,375.4 L282.6,374.1 L282.4,372.5 L281.1,370.9 L279.7,369.3 L278.0,368.1 L277.5,366.5 L276.4,365.1 L275.4,363.8 L277.1,363.0 L278.0,361.1 L279.7,360.3 L281.4,359.9 L283.3,360.3 L285.0,359.9 L286.7,359.4 L287.9,357.7 L289.3,356.0 L288.1,354.8 L286.5,354.2 L285.0,353.4 L285.3,352.1 L285.0,350.8 L287.0,350.6 L289.0,350.5 L291.0,350.8 L292.7,349.9 L294.3,348.8 L296.2,348.2 L297.3,346.7 L298.9,345.5 L299.7,343.8 L300.4,341.7 L301.0,339.6 L302.3,337.8 L303.1,336.1 L304.4,334.7 L305.8,333.4 L307.6,333.4 L309.2,332.7 L311.0,332.6 L312.3,331.3 L313.6,330.0 L315.3,329.1 L316.5,328.6Z" fill="#fa403e"/><g clip-path="url(#cn)"><path d="M270.0,357.0 L286.7,359.4 L293.6,361.2 L299.7,366.4 L303.2,372.5 L304.0,378.5 L302.6,386.0 L270.0,392.0Z" fill="#fb9c9c"/><circle cx="340.8" cy="376.5" r="1.1" fill="#f58a8a"/><circle cx="328.3" cy="380.3" r="0.9" fill="#f58a8a"/></g><path d="M330.0,352.5 L334.4,354.2 L338.7,353.4 L338.7,357.7 L336.1,362.0 L334.4,366.4 L328.3,365.5 L326.6,362.9 L330.0,359.4 L328.3,355.1Z" fill="#ffffff" stroke="#2a0808" stroke-width="0.5"/><path d="M357.0,364.0 L359.4,365.0 L360.4,370.0 L359.6,375.6 L357.6,376.0 L358.4,370.0Z" fill="#ffffff" stroke="#2a0808" stroke-width="0.9"/><path d="M317.0,327.4 L318.7,326.9 L320.5,326.6 L322.2,326.6 L324.0,326.5 L325.6,325.6 L327.3,324.8 L329.1,324.5 L330.9,323.9 L332.6,324.3 L334.4,324.2 L336.1,324.1 L337.9,323.9 L340.0,324.2 L341.9,325.1 L343.9,325.6 L344.9,327.2 L345.9,328.9 L346.5,330.8 L347.2,332.8 L347.4,334.8 L347.4,336.9 L347.9,338.6 L348.9,340.1 L349.8,341.6 L350.9,343.0 L351.5,344.6 L352.9,345.9 L353.7,347.4 L354.4,349.0 L354.9,350.5 L355.3,352.0 L356.1,353.4 L355.0,354.7 L354.1,356.1 L353.5,357.7 L355.5,357.3 L357.6,357.8 L359.6,357.7 L360.6,359.2 L361.9,360.6 L363.0,362.0 L363.6,364.0 L363.6,366.1 L363.9,368.1 L363.7,370.2 L362.4,372.1 L362.2,374.2 L360.8,375.4 L359.8,377.0 L358.7,378.5 L357.1,379.9 L355.2,381.1 L354.6,379.7 L353.5,378.8 L352.6,380.1 L351.5,381.3 L350.9,382.9 L349.5,384.5 L348.6,386.4 L347.4,388.1 L346.3,389.6 L345.0,390.9 L343.9,392.4 L342.4,391.6 L340.9,390.9 L339.6,389.8 L337.8,389.4 L336.2,388.4 L334.4,388.1 L332.8,389.1 L331.1,389.6 L329.2,389.8 L327.4,390.0 L325.8,390.6 L324.0,390.7 L323.5,389.0 L322.8,387.2 L322.3,385.5 L321.1,384.1 L320.5,382.2 L318.8,381.1 L317.9,379.4 L317.3,377.4 L316.5,375.4 L316.2,373.3 L315.1,372.1 L313.7,371.2 L312.7,369.9 L311.0,370.9 L309.2,371.6 L307.7,373.2 L306.6,375.0 L306.8,377.2 L306.6,379.4 L305.1,380.8 L303.5,382.0 L302.3,383.7 L300.6,384.1 L298.8,384.1 L297.1,383.7 L295.5,383.0 L294.4,381.8 L292.8,381.1 L291.7,379.9 L290.3,379.0 L289.3,377.7 L287.5,377.5 L285.8,377.4 L284.1,376.8 L283.5,375.4 L282.6,374.1 L282.4,372.5 L281.1,370.9 L279.7,369.3 L278.0,368.1 L277.5,366.5 L276.4,365.1 L275.4,363.8 L277.1,363.0 L278.0,361.1 L279.7,360.3 L281.4,359.9 L283.3,360.3 L285.0,359.9 L286.7,359.4 L287.9,357.7 L289.3,356.0 L288.1,354.8 L286.5,354.2 L285.0,353.4 L285.3,352.1 L285.0,350.8 L287.0,350.6 L289.0,350.5 L291.0,350.8 L292.7,349.9 L294.3,348.8 L296.2,348.2 L297.3,346.7 L298.9,345.5 L299.7,343.8 L300.4,341.7 L301.0,339.6 L302.3,337.8 L303.1,336.1 L304.4,334.7 L305.8,333.4 L307.6,333.4 L309.2,332.7 L311.0,332.6 L312.3,331.3 L313.6,330.0 L315.3,329.1 L316.5,328.6Z" fill="none" stroke="#2a0808" stroke-width="0.9" stroke-linejoin="round"/><path d="M388.7,135.8 L390.6,135.8 L392.4,136.4 L394.2,136.6 L395.4,137.8 L396.2,139.3 L397.4,140.5 L398.8,139.8 L399.7,138.5 L401.3,138.1 L402.8,138.1 L403.7,139.5 L405.2,139.7 L406.6,140.6 L407.6,142.0 L408.7,141.0 L410.5,141.0 L411.5,139.7 L413.1,139.5 L414.7,139.8 L416.3,139.1 L417.9,139.0 L419.5,138.8 L421.0,137.9 L422.7,138.2 L424.2,137.7 L425.8,138.1 L427.4,137.6 L428.9,137.8 L430.5,137.4 L432.0,137.0 L433.0,135.7 L434.7,135.9 L436.0,135.0 L437.6,135.3 L439.2,135.2 L440.8,135.0 L442.3,135.8 L444.2,136.6 L446.2,136.6 L446.0,138.2 L445.5,139.7 L445.5,141.3 L444.5,142.4 L444.2,143.8 L443.9,145.2 L443.7,146.6 L444.6,147.8 L444.7,149.2 L443.3,150.6 L442.6,152.4 L441.5,153.9 L440.0,154.7 L438.8,155.9 L438.3,157.8 L436.8,158.6 L435.9,159.9 L434.6,160.9 L432.8,161.2 L432.0,162.6 L430.9,163.6 L429.6,164.4 L428.6,165.7 L427.3,166.5 L425.9,167.5 L424.6,168.6 L423.3,169.6 L421.8,170.5 L420.5,171.4 L419.3,172.4 L417.9,173.0 L417.0,174.4 L416.3,175.7 L415.5,176.9 L415.5,178.4 L416.8,179.9 L418.6,180.7 L420.0,181.0 L421.3,180.4 L422.6,180.0 L422.2,181.8 L420.6,182.9 L420.2,184.7 L418.7,186.0 L417.7,187.6 L417.0,189.4 L416.2,190.7 L415.2,192.0 L415.0,193.7 L413.9,194.9 L412.3,196.0 L411.2,197.5 L410.0,198.9 L408.8,199.9 L407.6,200.9 L406.0,201.2 L404.2,200.8 L402.5,201.2 L404.0,202.4 L406.0,202.6 L407.5,201.5 L409.5,201.6 L411.0,200.6 L412.1,199.2 L413.1,197.7 L414.4,196.5 L415.8,195.4 L417.5,195.0 L419.1,194.4 L420.2,192.8 L422.0,192.6 L423.6,192.3 L425.1,191.3 L426.9,191.7 L428.4,191.0 L429.8,190.1 L431.7,189.9 L433.0,188.7 L434.7,189.0 L436.3,188.2 L437.9,187.9 L439.2,189.2 L441.1,189.3 L442.6,190.3 L444.1,190.3 L445.2,191.4 L446.5,191.8 L447.6,190.5 L449.0,190.0 L450.5,189.5 L452.1,189.6 L453.6,190.0 L455.3,189.7 L456.8,190.3 L458.4,189.9 L459.9,191.1 L461.5,190.6 L463.0,191.0 L464.6,191.5 L466.2,191.3 L467.8,190.6 L469.4,190.7 L470.9,190.3 L472.5,189.9 L474.0,189.5 L475.6,190.2 L477.2,190.6 L478.9,191.0 L479.9,192.4 L480.9,193.8 L482.0,195.0 L482.0,197.0 L483.1,198.7 L483.6,200.5 L482.9,202.1 L481.8,203.5 L481.2,205.2 L480.4,207.0 L479.3,208.5 L478.0,210.0 L476.9,211.7 L477.0,213.7 L476.5,215.5 L475.9,217.3 L476.1,219.3 L475.0,221.0 L474.5,222.9 L473.8,224.6 L473.3,226.5 L473.1,228.6 L471.6,230.1 L471.0,232.0 L470.3,233.8 L470.4,235.9 L469.4,237.6 L468.3,238.7 L467.5,240.0 L466.3,241.0 L465.5,242.3 L464.6,243.7 L463.2,244.7 L462.3,246.2 L461.8,247.8 L462.3,249.5 L461.5,251.0 L460.6,252.7 L458.7,253.5 L457.6,255.0 L455.9,255.6 L455.1,257.2 L453.6,258.0 L452.1,258.5 L450.5,258.9 L448.9,259.3 L447.4,260.0 L445.7,260.3 L444.2,261.0 L442.6,261.5 L441.0,261.8 L439.8,262.9 L438.3,263.6 L437.0,264.6 L435.6,264.7 L434.3,264.5 L433.0,264.2 L434.5,265.2 L436.5,265.0 L437.9,266.2 L439.8,265.6 L441.8,265.2 L443.5,264.1 L445.3,263.3 L447.3,263.0 L448.9,263.0 L450.4,262.0 L452.0,262.0 L451.6,263.8 L450.5,265.2 L452.1,265.9 L453.5,266.9 L455.2,267.5 L456.6,268.0 L457.5,269.0 L458.4,270.0 L457.1,271.3 L455.2,271.9 L454.0,273.4 L452.5,274.1 L450.7,274.2 L449.5,275.6 L447.8,275.8 L446.7,276.9 L445.3,277.6 L443.9,278.4 L443.0,279.7 L441.5,280.8 L440.1,282.1 L438.4,282.9 L436.9,283.8 L435.2,283.9 L433.6,284.4 L432.0,284.5 L430.5,283.6 L428.9,283.7 L427.4,283.0 L425.7,283.5 L424.2,282.9 L425.6,283.6 L426.5,285.0 L428.0,285.6 L429.8,286.0 L431.7,286.4 L433.6,286.2 L435.2,286.2 L436.8,286.1 L438.4,286.4 L440.0,286.8 L441.6,286.9 L443.1,286.1 L444.6,286.0 L446.2,286.0 L447.7,284.9 L449.3,283.9 L451.0,282.9 L452.6,282.8 L454.1,283.4 L455.7,282.9 L457.5,283.6 L459.2,284.5 L460.4,286.0 L461.7,287.4 L463.3,288.4 L464.8,289.5 L466.7,290.0 L468.3,290.9 L469.6,292.4 L471.2,293.4 L473.0,293.9 L474.7,294.8 L476.0,296.3 L476.9,298.1 L478.0,299.7 L479.4,301.1 L480.7,302.6 L482.1,303.8 L483.6,304.8 L485.0,306.1 L486.2,307.4 L487.3,308.8 L488.3,310.3 L488.5,312.2 L489.4,313.7 L489.9,315.6 L489.4,317.6 L490.5,319.5 L490.2,321.5 L490.2,323.2 L490.9,324.7 L491.2,326.4 L491.7,328.0 L492.6,329.4 L492.6,331.1 L493.4,332.6 L494.5,334.0 L494.2,335.8 L494.9,337.3 L495.9,338.7 L496.3,340.4 L496.5,342.1 L497.3,343.6 L497.7,345.2 L498.2,346.7 L498.0,348.5 L498.9,349.9 L499.4,351.5 L500.3,353.0 L501.0,354.6 L501.3,356.3 L501.5,357.8 L502.5,359.0 L502.8,360.6 L503.7,361.8 L503.0,363.5 L502.0,365.0 L503.5,364.4 L505.2,364.5 L506.8,364.2 L508.3,365.0 L510.0,364.6 L511.4,365.7 L513.1,365.8 L514.5,367.0 L516.1,367.7 L517.7,368.5 L519.4,368.9 L521.1,369.4 L522.1,371.0 L523.3,372.3 L525.0,372.9 L526.2,374.0 L526.8,375.5 L527.6,376.9 L528.1,378.4 L528.9,379.8 L529.8,381.1 L530.5,382.5 L531.3,383.9 L532.4,385.5 L534.3,386.1 L535.2,387.9 L536.8,388.2 L538.2,389.1 L539.5,389.8 L540.7,391.0 L539.4,392.3 L537.6,392.6 L536.5,394.0 L536.1,395.6 L536.0,397.3 L537.1,398.7 L537.2,400.5 L538.0,401.9 L538.4,403.6 L539.6,405.1 L540.5,406.7 L541.2,408.5 L542.3,410.0 L543.2,411.4 L544.4,412.7 L545.5,413.9 L546.2,415.5 L547.4,416.7 L548.7,417.8 L549.4,419.4 L547.8,420.3 L546.3,419.0 L544.7,417.8 L543.2,417.1 L541.5,417.1 L540.0,416.6 L538.3,415.7 L537.1,414.3 L536.0,412.8 L534.6,412.7 L533.4,412.1 L532.0,412.0 L530.0,412.4 L528.4,413.6 L526.5,414.2 L524.7,413.6 L522.8,413.7 L521.0,413.6 L519.7,414.0 L518.4,414.5 L517.1,414.7 L519.1,415.0 L521.0,415.4 L522.8,415.9 L524.7,415.8 L526.5,416.2 L528.4,415.8 L530.2,414.8 L532.0,414.2 L533.7,414.4 L535.2,415.2 L536.2,416.5 L537.2,417.8 L538.4,418.9 L539.8,419.0 L540.7,420.0 L542.1,421.0 L543.5,422.0 L544.6,423.4 L546.2,424.1 L547.0,425.7 L548.7,426.4 L549.5,428.0 L551.0,428.9 L551.5,430.6 L552.8,431.9 L553.4,433.6 L554.1,435.2 L555.1,436.6 L554.9,438.5 L555.7,440.0 L556.5,441.5 L556.0,442.7 L556.4,443.9 L555.4,445.3 L554.9,446.9 L554.2,448.4 L553.8,450.0 L552.6,451.0 L551.9,452.5 L550.4,453.1 L549.4,454.3 L548.7,455.9 L547.4,456.9 L546.0,457.8 L547.2,459.2 L549.2,459.6 L550.3,461.2 L552.3,461.6 L554.0,462.5 L555.5,463.8 L556.5,465.4 L558.1,466.4 L558.3,464.5 L558.8,462.7 L559.9,461.2 L560.8,459.9 L560.6,458.2 L561.6,456.9 L563.5,456.4 L565.2,455.4 L566.8,454.3 L568.3,454.7 L569.8,454.8 L571.4,454.4 L572.9,454.3 L574.6,454.7 L576.3,453.7 L578.1,454.6 L579.8,454.3 L581.5,454.7 L583.2,455.4 L585.2,455.1 L586.8,456.0 L588.4,457.1 L590.0,458.2 L592.2,458.2 L593.7,459.5 L595.1,460.4 L596.1,461.6 L597.1,462.9 L598.8,463.4 L599.8,464.7 L601.0,465.9 L601.8,467.3 L602.3,468.9 L603.0,470.4 L604.1,471.6 L604.5,473.3 L604.8,475.1 L605.1,476.8 L605.4,478.5 L605.5,480.3 L605.3,482.1 L605.4,483.9 L604.7,485.5 L603.8,487.2 L604.1,489.0 L603.7,490.8 L602.8,492.4 L602.9,494.3 L601.8,495.9 L601.5,497.7 L600.4,498.8 L599.6,500.2 L598.9,501.6 L598.0,502.9 L596.9,504.2 L595.7,505.4 L594.4,506.5 L593.7,508.1 L593.2,510.0 L592.4,511.8 L590.8,513.1 L590.2,515.0 L588.8,516.1 L588.2,517.9 L587.2,519.3 L585.7,519.8 L584.1,519.9 L582.7,520.9 L581.1,521.0 L581.2,522.6 L581.0,524.1 L580.3,525.6 L580.2,527.1 L579.5,528.5 L578.8,529.9 L577.5,531.0 L576.8,532.4 L575.1,532.5 L573.8,533.9 L572.1,534.1 L570.7,535.0 L569.2,535.5 L567.5,535.4 L566.1,536.2 L564.6,536.7 L562.9,537.5 L561.2,538.0 L559.4,538.2 L557.5,538.3 L555.9,537.3 L554.2,536.8 L555.6,537.4 L557.0,538.0 L558.2,538.9 L559.4,539.8 L561.2,540.0 L562.8,540.9 L564.6,541.0 L566.2,540.0 L568.2,540.4 L569.8,539.3 L571.1,540.2 L572.3,541.1 L573.7,541.9 L575.0,542.8 L576.6,544.0 L578.3,544.9 L580.2,545.4 L582.0,545.0 L583.7,544.5 L585.5,544.3 L587.2,543.6 L589.0,543.8 L590.6,543.1 L592.4,543.3 L594.1,542.8 L595.5,543.4 L597.0,542.8 L598.4,542.8 L598.5,544.6 L598.2,546.3 L597.6,548.0 L597.0,549.7 L596.8,551.4 L596.7,553.2 L595.2,554.1 L594.2,555.5 L593.7,557.3 L592.4,558.4 L591.3,559.6 L590.0,560.3 L588.7,561.3 L587.2,561.8 L585.9,562.8 L584.6,563.8 L583.7,565.3 L582.9,566.7 L583.4,568.3 L582.8,569.7 L581.4,569.0 L579.8,569.5 L578.3,569.1 L576.8,568.8 L574.9,569.4 L573.5,571.0 L571.5,571.4 L570.0,572.7 L567.9,572.8 L566.3,574.0 L565.1,575.1 L563.8,575.9 L562.3,576.5 L561.1,577.5 L559.5,578.5 L558.6,580.2 L556.8,580.9 L555.2,580.4 L553.7,579.7 L552.2,579.0 L550.7,578.3 L548.9,578.2 L547.3,577.4 L545.7,576.5 L543.8,576.6 L542.0,576.7 L540.3,576.5 L538.5,577.1 L536.8,576.6 L535.1,577.1 L533.3,576.9 L531.7,577.7 L529.9,577.5 L528.1,577.5 L526.3,577.9 L524.8,579.2 L523.0,579.2 L521.3,580.1 L520.4,581.8 L518.9,581.1 L517.6,579.8 L516.0,579.2 L514.6,578.5 L512.9,578.7 L511.5,578.1 L510.0,577.7 L508.4,577.5 L506.8,577.1 L505.2,577.3 L503.4,576.3 L502.0,574.9 L500.6,573.6 L499.2,572.4 L497.3,571.8 L497.6,573.2 L498.3,574.4 L498.9,575.7 L498.2,577.1 L496.8,577.8 L495.7,578.9 L494.8,580.1 L493.4,580.8 L492.6,582.0 L491.0,581.8 L489.4,581.9 L487.8,582.0 L486.2,582.4 L484.6,581.8 L483.1,581.8 L481.5,582.0 L479.7,582.6 L477.8,582.1 L476.0,582.8 L476.7,584.0 L478.0,584.7 L478.4,586.0 L477.4,587.4 L477.7,589.3 L476.8,590.7 L475.2,590.6 L473.6,589.9 L472.0,589.9 L470.4,589.8 L468.9,589.8 L467.3,589.7 L465.7,589.9 L464.2,591.0 L462.7,592.2 L461.0,593.0 L460.2,592.0 L460.2,590.7 L458.3,590.1 L457.2,588.4 L455.5,587.5 L454.3,586.5 L452.8,585.9 L451.5,584.9 L450.0,584.4 L448.4,584.2 L446.8,583.9 L445.2,583.3 L443.7,582.8 L441.7,582.6 L439.8,583.7 L437.8,583.4 L435.8,583.6 L434.3,584.3 L432.6,584.1 L431.1,585.0 L429.5,585.2 L428.2,586.4 L426.7,587.4 L425.2,588.3 L424.6,589.7 L423.8,591.1 L423.5,592.7 L423.4,594.5 L422.5,596.1 L422.6,597.9 L422.1,599.3 L421.1,600.3 L420.0,601.3 L419.9,603.2 L419.3,604.9 L418.3,606.5 L417.1,607.8 L416.3,609.3 L415.7,610.9 L413.9,611.3 L412.2,610.9 L410.8,610.0 L409.8,608.6 L408.7,607.4 L407.1,606.6 L405.4,605.9 L403.5,605.7 L401.9,604.8 L400.1,604.4 L398.3,603.9 L397.5,602.5 L397.3,600.9 L396.7,599.5 L396.6,597.9 L395.4,599.0 L394.2,600.1 L393.1,601.3 L391.7,601.9 L390.1,602.0 L388.5,601.6 L387.1,602.2 L385.6,602.8 L384.1,601.8 L382.5,601.7 L381.0,602.2 L379.5,602.9 L378.9,604.5 L377.7,605.4 L376.6,606.5 L375.2,607.3 L373.9,608.1 L372.4,608.7 L371.4,610.0 L369.6,610.4 L368.0,611.4 L366.2,611.8 L365.5,613.5 L365.7,615.3 L365.4,617.0 L364.7,618.4 L363.9,619.8 L363.6,621.3 L362.2,622.7 L360.2,623.0 L359.6,621.4 L358.6,620.0 L357.6,618.7 L356.1,617.8 L354.7,616.9 L353.2,616.1 L351.5,616.7 L349.8,617.6 L348.0,617.8 L346.6,617.5 L345.0,617.8 L343.7,617.0 L343.3,615.2 L342.8,613.5 L344.1,612.5 L345.1,611.1 L346.3,610.0 L347.8,609.9 L349.4,610.1 L350.9,609.8 L352.4,609.1 L353.5,607.9 L355.2,607.7 L356.4,606.7 L357.6,605.7 L358.6,604.2 L360.1,603.4 L361.3,602.2 L362.8,601.3 L363.5,599.7 L365.0,598.7 L366.4,597.7 L367.1,596.1 L367.5,594.3 L368.7,592.8 L368.8,590.9 L370.6,590.2 L372.1,588.8 L374.0,588.3 L375.6,587.3 L376.7,585.8 L378.3,584.8 L379.2,583.1 L380.5,582.0 L381.6,580.7 L382.4,579.1 L383.6,577.9 L384.8,576.3 L385.8,574.7 L386.2,572.7 L386.9,571.2 L386.6,569.6 L387.2,568.2 L387.1,566.6 L388.8,566.2 L390.5,565.8 L392.2,565.3 L394.0,565.3 L395.7,565.8 L396.5,564.3 L397.8,563.2 L399.2,562.3 L398.5,560.6 L398.6,558.8 L398.3,557.1 L400.2,556.5 L401.8,555.4 L403.3,555.2 L404.8,554.9 L406.4,554.9 L407.9,554.5 L409.6,554.0 L411.3,554.0 L413.1,554.1 L414.8,553.6 L416.6,553.5 L418.3,553.2 L420.1,554.1 L421.8,553.6 L423.5,554.3 L425.3,554.3 L427.0,554.8 L428.7,555.4 L430.4,555.6 L432.1,555.9 L433.9,555.7 L435.6,556.2 L437.2,556.1 L438.4,556.8 L439.7,557.6 L440.4,556.1 L440.5,554.4 L440.3,552.5 L441.0,550.7 L441.3,548.9 L442.0,547.4 L443.1,546.1 L444.4,545.0 L445.3,543.5 L446.7,542.5 L447.7,541.1 L449.2,540.2 L450.0,538.6 L451.2,537.5 L452.4,536.4 L453.9,535.5 L454.9,533.9 L455.5,532.1 L456.4,530.5 L457.9,529.2 L459.0,527.8 L460.2,526.4 L461.6,525.2 L462.6,523.7 L462.5,522.3 L463.4,521.3 L462.5,522.6 L461.5,523.7 L460.8,525.2 L459.4,526.0 L457.7,526.9 L457.0,528.9 L455.5,530.0 L454.5,531.6 L452.9,532.6 L451.5,533.9 L450.2,535.3 L448.3,535.9 L446.8,537.1 L445.0,537.8 L443.3,538.5 L441.3,538.6 L440.2,539.7 L438.6,539.7 L437.4,540.6 L436.4,542.0 L434.8,542.7 L433.9,544.1 L432.2,544.1 L430.4,543.6 L428.7,544.3 L427.0,544.1 L425.1,543.5 L423.4,542.6 L421.9,541.1 L420.0,540.6 L419.0,539.2 L417.7,538.1 L416.4,537.0 L415.7,535.4 L415.0,533.6 L414.5,531.7 L413.1,530.2 L411.3,530.7 L409.8,531.9 L407.9,531.9 L406.3,533.1 L404.6,533.7 L402.8,534.2 L400.9,534.5 L398.9,534.1 L397.2,533.2 L395.7,531.9 L395.5,530.1 L395.3,528.3 L394.1,526.8 L394.0,525.0 L395.0,523.5 L395.0,521.7 L395.8,520.2 L396.0,518.5 L394.5,519.7 L393.4,521.2 L393.2,523.4 L391.6,524.6 L389.9,525.4 L388.1,525.6 L386.4,526.3 L384.4,526.7 L383.2,528.5 L381.3,529.1 L379.5,529.8 L377.7,529.6 L376.1,530.7 L374.3,530.5 L372.6,530.6 L373.8,529.6 L375.3,529.1 L376.8,528.5 L377.8,527.2 L376.3,526.0 L375.7,524.1 L374.3,522.8 L372.5,523.2 L370.7,523.7 L369.1,524.7 L367.4,525.4 L366.0,524.5 L364.3,524.7 L362.8,524.2 L361.3,523.7 L362.2,522.3 L363.8,521.6 L364.7,520.2 L365.6,518.5 L366.5,516.8 L364.7,516.5 L362.9,516.0 L361.3,515.0 L362.7,514.3 L364.0,513.4 L365.3,512.6 L366.5,511.5 L367.8,510.3 L369.4,509.2 L370.8,508.1 L372.5,507.4 L374.3,507.7 L376.0,507.2 L377.2,505.8 L379.0,505.4 L380.7,504.8 L382.1,503.7 L383.9,503.0 L385.4,501.5 L387.3,501.1 L388.7,500.2 L390.5,500.2 L391.9,499.3 L393.4,498.5 L394.9,498.0 L396.2,497.2 L397.3,495.9 L398.6,495.1 L400.0,494.3 L400.9,493.1 L401.7,491.7 L402.9,490.7 L403.6,488.9 L404.2,487.0 L405.5,485.5 L405.6,484.0 L406.5,482.5 L405.7,480.9 L406.4,479.4 L406.2,477.7 L405.3,476.0 L405.5,474.2 L405.6,472.3 L406.9,470.8 L407.3,469.0 L406.4,467.4 L405.6,465.7 L405.5,463.8 L405.4,462.0 L406.3,460.4 L406.4,458.6 L405.0,458.2 L403.4,458.6 L402.0,457.8 L400.6,458.5 L398.8,458.1 L397.6,459.4 L396.0,459.5 L394.7,460.3 L393.5,461.3 L391.9,461.8 L390.8,463.0 L389.0,463.4 L387.2,463.8 L385.6,464.7 L384.1,465.2 L382.8,466.2 L381.2,466.4 L381.7,464.8 L382.5,463.3 L383.8,462.1 L385.2,461.2 L385.8,459.4 L387.3,458.6 L388.4,457.0 L390.5,456.8 L391.6,455.2 L392.7,453.8 L394.5,453.4 L395.2,451.5 L396.8,450.8 L398.1,449.5 L399.2,448.0 L401.0,447.2 L402.0,445.6 L403.2,444.3 L404.3,442.9 L405.4,441.7 L406.6,440.4 L407.3,438.7 L409.0,437.9 L410.8,437.5 L412.5,436.6 L414.2,436.0 L416.1,436.2 L417.5,437.6 L419.4,437.8 L421.1,437.7 L422.9,437.7 L424.5,436.8 L426.3,436.9 L428.0,436.4 L429.8,435.9 L431.5,435.4 L432.7,436.5 L434.4,436.7 L435.5,438.0 L436.9,439.0 L438.1,440.3 L439.4,441.4 L438.4,439.7 L438.4,437.8 L437.8,436.0 L438.2,434.6 L438.0,433.2 L438.3,431.8 L439.6,431.3 L440.7,430.5 L441.8,429.7 L441.1,428.2 L440.8,426.6 L441.2,424.8 L440.2,423.4 L440.8,421.7 L441.7,420.2 L442.6,418.6 L443.2,416.8 L444.4,415.3 L445.7,413.9 L447.2,413.0 L449.0,413.5 L450.5,412.5 L449.0,411.7 L447.5,411.1 L445.9,410.4 L444.2,410.4 L442.6,410.0 L443.1,408.4 L442.6,406.9 L442.5,405.3 L442.6,403.7 L444.3,402.7 L445.5,401.4 L446.5,399.7 L447.6,398.5 L447.7,396.9 L448.6,395.7 L448.9,394.2 L449.1,392.6 L450.1,391.2 L450.4,389.6 L449.9,387.8 L450.5,386.3 L448.6,387.1 L447.3,388.7 L446.0,387.9 L444.9,386.9 L444.2,385.5 L443.2,386.7 L442.8,388.3 L441.8,389.5 L440.5,390.9 L439.1,392.3 L437.9,393.8 L436.5,393.9 L435.6,392.9 L435.6,391.0 L434.7,389.1 L434.6,387.2 L434.4,385.3 L433.3,384.2 L432.7,382.6 L431.8,381.4 L430.6,380.3 L429.5,378.7 L428.4,377.1 L428.0,375.2 L426.9,373.7 L426.1,372.1 L424.8,370.7 L424.3,368.9 L424.2,367.2 L425.2,365.8 L425.4,364.2 L425.5,362.6 L426.8,361.3 L427.5,359.8 L428.2,358.2 L428.4,356.5 L429.3,355.0 L430.1,353.1 L431.3,351.5 L432.6,350.0 L434.2,348.9 L435.8,347.9 L437.4,346.8 L439.0,346.4 L440.5,345.8 L442.2,346.0 L443.7,345.2 L444.2,343.9 L445.2,342.8 L446.0,341.6 L445.1,340.6 L443.7,340.5 L442.0,340.7 L440.6,341.9 L439.1,342.5 L437.4,342.8 L435.8,342.4 L434.2,343.4 L432.6,343.2 L431.0,342.8 L429.4,343.4 L427.8,344.0 L426.3,342.8 L426.1,341.2 L425.4,339.7 L424.9,338.1 L425.2,336.4 L425.6,338.2 L425.0,340.0 L425.4,341.8 L425.4,343.6 L424.0,344.7 L423.5,346.5 L421.7,347.0 L420.2,348.2 L418.3,348.5 L416.9,349.8 L415.6,351.4 L413.6,352.0 L411.9,352.1 L410.3,351.5 L410.2,352.7 L409.2,353.2 L407.8,353.0 L406.4,352.6 L404.9,351.3 L403.6,349.8 L401.7,349.1 L400.3,347.6 L399.0,346.2 L397.6,344.9 L398.6,346.7 L398.7,348.7 L399.4,349.9 L400.0,351.2 L400.3,352.6 L399.9,354.1 L400.4,355.5 L400.3,357.0 L399.3,357.6 L398.1,357.6 L396.2,357.2 L394.8,355.9 L393.6,354.6 L392.6,353.2 L391.3,351.7 L389.8,350.4 L388.3,349.1 L386.5,348.2 L384.9,347.4 L383.2,347.6 L381.8,348.4 L381.0,349.8 L381.6,351.1 L381.6,352.6 L382.4,354.0 L382.0,355.6 L382.7,357.0 L382.6,358.7 L383.2,360.3 L381.6,359.8 L380.8,358.1 L379.9,356.5 L379.9,354.9 L379.2,353.5 L378.8,352.0 L377.7,350.9 L376.6,349.7 L376.0,348.2 L374.8,347.2 L374.7,345.5 L373.8,344.3 L374.3,342.4 L373.8,340.5 L375.2,340.0 L376.0,338.8 L376.9,337.4 L378.1,336.2 L378.9,334.7 L380.1,333.5 L380.8,332.0 L381.3,330.5 L382.0,329.0 L382.7,327.6 L383.6,326.3 L384.1,324.7 L385.2,323.6 L385.7,321.9 L387.0,320.6 L387.6,318.9 L389.3,317.7 L390.0,315.7 L390.8,314.2 L391.4,312.5 L392.3,311.0 L391.6,309.2 L391.2,307.3 L390.7,305.5 L389.7,303.9 L388.1,302.9 L386.8,301.5 L386.5,299.9 L384.8,299.1 L384.4,297.6 L384.4,295.8 L384.8,294.1 L384.9,292.3 L385.2,290.5 L386.6,289.1 L387.2,287.3 L387.1,285.7 L386.8,284.3 L385.8,283.0 L385.9,281.2 L385.1,279.5 L385.7,277.7 L385.6,276.0 L385.0,277.3 L384.5,278.7 L384.0,280.0 L384.1,281.8 L383.4,283.5 L383.1,285.2 L383.4,287.0 L383.4,288.9 L382.3,290.4 L382.2,292.3 L381.6,294.0 L380.5,295.2 L379.4,296.5 L379.2,294.8 L378.7,293.3 L377.6,292.0 L377.7,290.5 L377.0,289.0 L377.8,287.5 L377.2,286.0 L376.1,284.9 L375.6,283.4 L375.0,282.0 L376.3,280.7 L376.8,278.8 L378.0,277.4 L378.8,276.0 L380.4,275.2 L381.4,274.0 L382.0,272.4 L383.0,270.9 L384.2,269.6 L385.4,268.4 L384.1,269.4 L382.7,270.3 L381.0,270.6 L380.1,271.9 L378.3,272.4 L378.0,274.3 L376.5,275.0 L375.4,276.7 L374.1,278.1 L372.5,279.3 L372.6,281.3 L371.7,283.1 L371.3,285.0 L370.9,286.7 L370.8,288.3 L371.1,290.0 L370.9,291.8 L371.0,293.7 L369.6,295.1 L369.4,297.2 L367.9,298.4 L367.5,300.1 L366.2,301.4 L366.6,303.3 L365.5,304.7 L365.5,306.3 L364.9,307.9 L364.8,309.5 L364.2,311.0 L363.9,312.6 L364.2,314.2 L363.8,315.8 L362.8,317.3 L363.1,318.9 L362.1,320.3 L360.2,320.6 L359.2,322.0 L357.8,322.1 L356.6,321.0 L355.2,321.3 L355.4,319.4 L355.4,317.6 L355.2,315.7 L355.3,314.0 L355.6,312.4 L356.9,311.1 L356.7,309.3 L357.6,307.9 L357.6,305.9 L358.6,304.2 L359.0,302.3 L358.3,300.2 L359.2,298.4 L360.1,296.7 L359.9,294.7 L360.1,292.8 L360.6,291.0 L360.7,289.6 L361.5,288.5 L362.2,287.3 L363.4,286.0 L363.2,284.1 L364.1,282.6 L364.5,280.8 L365.3,279.3 L366.5,277.9 L365.7,276.7 L365.7,275.3 L365.5,274.0 L366.3,272.2 L365.7,270.2 L366.5,268.4 L365.6,266.6 L366.0,264.5 L365.0,262.7 L366.3,261.2 L367.1,259.4 L367.4,257.4 L368.1,255.9 L369.1,254.6 L370.2,253.4 L371.6,252.4 L372.2,250.7 L373.2,249.4 L374.4,248.3 L375.0,246.7 L376.2,245.6 L376.5,244.0 L377.6,242.8 L378.6,241.6 L377.1,242.5 L376.0,243.8 L374.7,244.6 L373.8,245.9 L372.8,247.0 L371.7,248.2 L370.5,249.4 L369.4,250.6 L368.4,251.8 L367.2,252.8 L366.2,254.0 L364.6,255.0 L363.6,256.6 L362.0,256.0 L360.9,254.6 L359.4,253.8 L358.3,252.3 L356.9,251.2 L355.2,250.4 L353.8,249.5 L353.3,247.7 L351.8,247.0 L351.5,245.6 L350.4,244.6 L351.9,244.1 L353.5,244.4 L355.0,244.3 L356.5,244.4 L358.0,245.0 L359.8,244.5 L361.5,245.0 L360.3,243.9 L358.7,244.0 L357.4,243.4 L355.6,242.6 L353.6,242.6 L352.0,242.8 L350.4,242.6 L349.0,241.8 L348.5,240.7 L347.3,240.2 L349.0,240.0 L350.6,239.7 L352.0,238.6 L353.6,238.8 L355.2,238.6 L356.8,238.6 L357.8,237.6 L357.8,235.9 L359.0,235.0 L358.6,233.6 L358.0,232.2 L357.6,230.8 L357.7,229.1 L358.6,227.6 L359.0,226.0 L360.0,225.1 L361.2,224.5 L362.3,223.7 L362.4,222.1 L362.6,220.5 L363.0,219.0 L364.1,217.9 L365.5,217.1 L367.0,216.4 L367.8,215.0 L369.3,214.2 L370.3,213.0 L371.0,211.5 L370.6,209.5 L369.4,207.9 L367.7,207.5 L366.4,206.2 L364.5,206.4 L363.0,205.5 L362.1,203.8 L362.0,201.8 L361.5,200.0 L361.5,198.3 L360.8,196.6 L360.7,194.9 L361.8,193.8 L362.5,192.4 L364.1,191.7 L364.7,190.2 L364.1,188.9 L363.6,187.5 L363.1,186.2 L362.9,184.4 L363.0,182.5 L362.3,180.7 L363.6,179.7 L363.9,178.1 L364.7,176.8 L366.2,175.9 L367.9,175.3 L369.4,174.4 L370.7,172.9 L372.5,172.3 L374.1,171.3 L374.2,169.6 L373.9,168.0 L373.3,166.5 L374.3,164.8 L376.3,164.2 L377.3,162.6 L376.6,161.1 L376.8,159.3 L375.7,157.9 L377.3,157.3 L378.9,157.0 L380.3,155.7 L382.1,155.0 L383.6,153.9 L383.8,152.3 L383.0,150.8 L382.8,149.2 L384.2,148.4 L385.1,147.2 L386.0,146.0 L385.8,144.2 L385.8,142.3 L386.0,140.5 L386.8,138.9 L387.4,137.3 L388.3,135.8Z" fill="#fa403e"/><g clip-path="url(#cm)"><path d="M355.0,156.6 L379.0,157.0 L385.0,158.0 L390.0,163.0 L391.5,169.0 L388.0,175.0 L383.6,178.0 L380.0,183.0 L376.0,188.0 L374.0,194.0 L372.5,200.0 L371.8,206.0 L369.4,209.4 L355.0,209.4Z" fill="#fb9c9c"/><ellipse cx="400.2" cy="208.6" rx="4.1" ry="3.4" fill="#fb9c9c"/><ellipse cx="382" cy="281.4" rx="2.4" ry="3.3" fill="#fb9c9c"/><path d="M370.0,318.6 L389.0,318.0 L396.2,317.3 L404.1,318.0 L410.4,322.0 L413.6,328.4 L414.4,334.7 L412.0,341.0 L409.7,347.3 L408.9,354.0 L370.0,364.0Z" fill="#fb9c9c"/><path d="M416.8,439.5 L418.0,434.0 L430.0,434.0 L428.9,436.9 L432.4,443.9 L435.9,450.8 L438.5,457.8 L436.8,463.8 L433.3,468.2 L428.9,473.4 L424.6,479.4 L421.1,482.9 L417.7,479.4 L413.3,476.0 L411.6,472.5 L414.2,464.7 L415.1,456.0 L415.9,447.3Z" fill="#fb9c9c"/><path d="M422.9,489.9 L428.1,488.1 L435.0,489.0 L440.2,491.6 L446.3,491.6 L450.6,494.2 L449.8,499.4 L444.6,501.1 L440.2,498.5 L435.0,497.7 L429.8,499.4 L424.6,497.7 L422.0,494.2Z" fill="#fb9c9c"/><path d="M566.3,546.2 L567.0,538.0 L583.0,538.0 L582.0,547.1 L581.1,554.9 L582.0,562.7 L582.0,571.0 L576.8,571.0 L571.5,565.3 L566.3,563.6 L562.0,560.1 L560.3,555.8 L562.0,550.6Z" fill="#fb9c9c"/><ellipse cx="510.8" cy="574.2" rx="7" ry="5.4" fill="#fb9c9c"/><ellipse cx="427" cy="583.4" rx="4.4" ry="5.2" fill="#fb9c9c"/><ellipse cx="477" cy="580.6" rx="2.6" ry="2.6" fill="#fb9c9c"/><ellipse cx="524" cy="578.4" rx="4.5" ry="1.6" fill="#fb9c9c"/><ellipse cx="546.4" cy="574.6" rx="1.6" ry="2.2" fill="#fb9c9c"/><ellipse cx="550" cy="563.4" rx="2" ry="1" fill="#fb9c9c"/><path d="M399.0,446.5 L404.0,440.0 L408.0,437.5 L411.0,438.5 L408.0,444.0 L404.0,447.5Z" fill="#f56a69"/></g><path d="M446.5,191.8 L446.7,193.2 L447.1,194.4 L447.3,195.8 L445.7,196.5 L444.3,197.7 L442.6,198.1 L441.4,199.5 L440.6,201.1 L440.2,202.9 L438.9,203.5 L438.1,204.8 L436.7,205.2 L435.5,206.0 L434.9,207.5 L434.2,208.8 L433.1,210.0 L432.3,211.5 L432.0,213.1 L433.1,214.8 L432.3,216.3 L431.4,217.5 L431.4,219.0 L431.3,220.5 L430.8,221.8 L429.8,222.9 L428.3,223.2 L427.2,224.3 L426.0,225.0 L424.8,226.1 L423.8,227.5 L422.9,228.9 L422.3,230.2 L420.6,230.6 L419.4,231.3 L418.9,232.8 L417.0,233.0 L415.7,234.3 L414.2,235.2 L412.9,236.6 L411.4,237.4 L409.5,237.6 L408.1,238.9 L406.0,238.6 L404.7,240.0 L403.7,241.1 L402.5,241.9 L400.8,242.1 L400.0,243.4 L398.8,244.2 L397.3,244.5 L396.0,245.2 L394.6,245.7 L393.3,246.8 L391.5,246.7 L390.0,247.3 L389.0,246.1 L387.2,246.1 L386.0,245.1 L385.0,244.0 L383.5,243.7 L382.0,243.8 L380.7,242.8 L379.5,242.2 L378.4,241.6" fill="none" stroke="#2a0808" stroke-width="1.2" stroke-linejoin="round" stroke-linecap="round"/><path d="M394.6,245.7 L394.3,247.3 L393.7,248.8 L392.8,250.3 L393.0,252.0 L392.4,253.6 L391.8,255.2 L391.1,256.8 L391.0,258.6 L390.0,260.0 L389.4,261.2 L388.7,262.4 L388.3,263.7 L389.2,264.9 L391.0,264.9 L392.0,265.9 L393.0,267.0 L394.5,266.9 L395.4,268.3 L396.8,268.4 L396.4,269.6 L397.1,271.0 L396.3,272.2 L397.1,273.8 L398.3,274.8 L400.0,275.4 L401.5,276.0 L403.1,276.4 L404.8,276.1 L406.3,277.0 L407.6,275.8 L409.4,276.0 L411.0,275.4 L412.5,274.5 L414.1,274.4 L415.8,274.6 L417.1,275.4 L418.3,276.3 L418.9,277.8 L420.0,279.1 L421.0,280.5 L422.1,281.4 L422.8,282.7 L424.2,283.3" fill="none" stroke="#2a0808" stroke-width="1.2" stroke-linejoin="round" stroke-linecap="round"/><path d="M424.2,285.6 L423.0,286.5 L421.7,287.2 L420.5,288.1 L419.4,289.2 L420.6,290.5 L421.6,292.0 L421.8,293.9 L423.3,294.2 L424.7,294.6 L425.9,295.8 L427.4,296.1 L428.9,296.3 L429.6,297.9 L430.4,299.5 L431.3,301.0 L430.5,302.5 L430.6,304.3 L429.6,305.8 L428.9,307.3 L429.4,308.9 L428.3,310.5 L429.5,312.0 L428.9,313.6 L429.5,315.0 L431.2,315.4 L431.5,317.1 L432.8,317.9 L433.6,319.1 L435.2,319.6 L436.6,320.8 L438.6,320.4 L440.2,321.1 L441.5,322.3 L442.3,323.7 L443.8,324.3 L445.4,324.8 L446.2,326.2 L446.4,328.1 L447.2,329.7 L448.6,331.0 L449.4,332.2 L449.2,333.6 L449.4,335.0 L448.7,336.6 L447.5,337.8 L446.2,338.9 L445.3,340.2 L444.6,341.6" fill="none" stroke="#2a0808" stroke-width="1.2" stroke-linejoin="round" stroke-linecap="round"/><path d="M476.0,297.0 L475.2,298.2 L473.8,298.8 L472.8,299.8 L472.0,301.0 L470.6,301.9 L470.4,303.7 L469.4,304.8 L468.1,305.8 L469.3,306.7 L470.0,307.9 L470.2,309.5 L471.3,310.5 L472.5,311.8 L472.8,313.7 L473.6,315.2 L472.9,316.8 L471.8,318.0 L470.5,319.2 L469.0,319.9 L467.2,320.0 L465.7,320.9 L464.4,322.3 L462.6,322.3 L461.2,323.4 L459.7,324.3 L457.6,324.2 L456.3,325.5 L455.5,326.8 L455.1,328.1 L454.7,329.5 L454.7,331.0 L453.2,331.8 L451.7,332.6 L450.8,334.2 L449.8,334.5 L449.4,335.5" fill="none" stroke="#2a0808" stroke-width="1.2" stroke-linejoin="round" stroke-linecap="round"/><path d="M455.5,331.8 L456.9,332.9 L457.2,334.7 L458.3,336.0 L459.4,337.3 L458.6,338.8 L459.4,340.5 L459.3,342.1 L458.4,343.6 L458.6,345.2 L458.2,346.5 L458.5,348.0 L457.8,349.3 L457.9,350.7 L459.5,351.0 L461.0,351.9 L462.8,351.4 L464.2,352.3 L465.1,353.5 L464.8,355.3 L466.1,356.3 L466.5,357.8 L467.1,359.3 L466.6,361.1 L467.3,362.6 L467.9,363.9 L469.3,364.7 L469.6,366.2 L470.5,367.3 L470.3,368.9 L471.0,370.5 L470.3,372.0 L470.5,373.6 L470.2,375.4 L469.1,376.8 L468.1,378.3 L468.3,379.8 L467.7,381.2 L466.3,382.2 L466.5,383.8 L467.9,384.1 L469.1,385.3 L470.6,384.9 L472.0,385.4 L473.6,385.7 L475.1,386.2 L476.8,386.1 L478.5,385.5 L480.0,386.2 L481.6,386.5 L483.1,386.8 L484.8,386.4 L486.3,387.0 L488.0,386.9 L489.3,388.3 L491.0,388.2 L492.6,388.6 L494.1,389.3 L495.0,390.5 L496.5,391.3 L497.4,392.6 L498.4,393.9 L499.9,394.5 L501.5,395.0 L502.2,396.7 L503.7,397.3 L505.4,397.6 L506.6,398.6 L508.2,399.1 L509.2,400.5 L508.1,401.9 L508.1,403.9 L506.8,405.2 L507.4,406.6 L508.5,407.7 L508.6,409.3 L509.2,410.7 L510.3,412.0 L511.8,412.9 L513.1,413.9 L514.4,414.1 L515.8,414.4 L517.1,414.7" fill="none" stroke="#2a0808" stroke-width="1.2" stroke-linejoin="round" stroke-linecap="round"/><path d="M517.9,415.5 L516.4,416.0 L516.4,417.9 L514.7,418.2 L513.9,419.4 L514.2,421.0 L512.8,422.5 L514.0,424.2 L513.1,425.7 L513.5,427.2 L514.5,428.2 L515.1,429.5 L516.3,430.4 L516.0,432.2 L517.5,433.5 L517.7,435.1 L517.9,436.8 L518.7,438.0 L520.1,438.5 L521.1,439.5 L521.8,440.7 L521.3,442.2 L519.8,443.0 L519.4,444.6 L518.3,445.7 L518.2,447.3 L518.0,449.1 L518.9,450.7 L518.1,452.6 L518.9,454.3 L519.1,456.0 L520.0,457.3 L520.3,458.9 L521.0,460.3 L522.0,461.6 L521.9,463.3 L522.6,464.7 L523.8,465.8 L524.6,467.2 L525.3,468.8 L526.6,469.7 L527.8,470.8 L529.2,471.2 L530.4,472.3 L531.7,473.0 L533.3,472.9 L534.7,473.4" fill="none" stroke="#2a0808" stroke-width="1.2" stroke-linejoin="round" stroke-linecap="round"/><path d="M557.3,464.7 L556.1,465.5 L554.7,466.0 L553.4,466.8 L552.0,467.3 L550.7,468.2 L549.5,469.2 L548.0,469.7 L546.8,470.8 L545.4,471.5 L543.7,471.5 L542.5,472.7 L540.8,472.5 L539.3,473.2 L537.8,473.6 L536.4,474.3 L534.7,474.2 L533.5,475.6 L533.2,477.4 L531.7,478.6 L531.2,480.3 L530.8,482.1 L532.0,483.8 L531.3,485.6 L532.1,487.3 L530.8,487.8 L529.8,488.8 L529.3,490.4 L527.8,490.7 L527.0,492.0 L525.9,493.2 L525.4,494.8 L524.3,495.9 L524.5,497.7 L524.2,499.4 L524.1,501.2 L523.2,502.8 L523.4,504.6 L523.5,506.4 L523.2,508.1 L522.7,509.8 L522.1,511.5 L522.6,513.3 L523.0,515.0 L524.3,516.0 L525.7,516.9 L526.4,518.5 L525.0,519.2 L524.3,520.4 L523.5,521.5 L523.0,522.8 L524.4,523.7 L526.1,524.2 L527.3,525.4 L528.2,526.5 L528.4,527.9 L528.6,529.3 L529.0,530.6 L529.8,532.0 L529.2,533.7 L529.4,535.2 L529.9,536.7 L530.1,538.2 L528.6,539.2 L528.6,540.6 L528.2,541.9" fill="none" stroke="#2a0808" stroke-width="1.2" stroke-linejoin="round" stroke-linecap="round"/><path d="M529.0,530.6 L530.5,530.4 L532.1,530.6 L533.7,530.6 L535.1,529.7 L536.8,529.0 L538.6,529.2 L540.3,528.7 L542.0,528.0 L543.5,528.2 L544.9,527.5 L546.4,528.0 L547.3,529.4 L547.0,531.0 L546.7,532.6 L547.3,534.1 L547.6,535.9 L547.3,537.6" fill="none" stroke="#2a0808" stroke-width="1.2" stroke-linejoin="round" stroke-linecap="round"/><path d="M529.9,536.7 L528.7,537.6 L527.3,537.6 L526.1,536.9 L524.6,536.9 L523.3,536.6 L522.1,535.8 L520.7,536.4 L519.2,537.0 L517.8,537.6 L516.5,538.3 L515.2,539.0 L514.0,539.8 L512.6,540.2 L511.0,539.9 L509.8,538.8 L508.2,538.4 L507.8,536.9 L508.0,535.4 L508.0,533.8 L507.4,532.4 L506.5,531.1 L505.4,530.1 L503.9,529.7 L502.9,528.3 L502.3,526.8 L502.3,525.1 L501.3,523.7 L499.8,524.5 L498.6,525.8 L496.9,526.3 L495.1,526.5 L493.3,526.6 L491.6,527.1 L490.0,528.0 L488.8,528.5 L487.5,528.5 L486.2,528.4 L484.7,529.2 L483.0,528.1 L481.6,529.3 L479.9,528.7 L478.4,529.2 L476.8,529.5 L475.2,529.9 L473.6,530.4 L472.0,530.8 L470.5,531.7 L469.6,533.1 L468.7,534.5 L467.3,535.5 L467.6,537.3 L466.9,539.1 L466.1,540.8 L466.5,542.6 L465.3,543.4 L463.8,542.9 L462.6,543.4 L461.0,543.4 L459.5,544.3 L457.9,544.4 L456.3,544.2 L455.2,543.2 L453.9,542.7 L452.6,541.9 L451.5,541.0" fill="none" stroke="#2a0808" stroke-width="1.2" stroke-linejoin="round" stroke-linecap="round"/><path d="M466.5,542.6 L466.3,544.2 L466.1,545.8 L466.5,547.3 L466.5,548.9 L466.7,550.3 L467.0,551.6 L466.4,553.1 L467.3,554.4 L467.0,555.9 L466.6,557.3 L465.9,558.7 L465.0,559.9 L466.2,560.9 L467.1,562.1 L468.2,563.3 L468.9,564.7 L470.4,565.3 L471.4,566.5 L472.6,567.4 L473.6,568.6 L475.0,568.9 L476.4,568.6 L477.8,568.6 L479.1,569.4 L480.7,570.1 L481.7,571.6 L483.1,572.6 L483.1,574.0 L482.4,575.3 L482.1,576.7 L482.3,578.1 L481.9,579.4 L481.8,580.9 L480.7,582.0" fill="none" stroke="#2a0808" stroke-width="1.2" stroke-linejoin="round" stroke-linecap="round"/><path d="M437.6,461.2 L437.7,462.6 L438.6,463.7 L439.4,464.7 L439.5,466.5 L439.7,468.3 L441.0,469.8 L441.1,471.6 L440.3,472.8 L439.3,473.9 L438.7,475.3 L438.5,476.8 L438.8,478.4 L439.8,479.7 L439.9,481.3 L440.2,482.9 L438.8,483.8 L439.0,485.8 L437.9,486.9 L436.8,488.1 L437.4,489.6 L439.0,490.3 L440.3,491.1 L441.1,492.5 L441.9,493.8 L441.7,495.6 L442.8,496.8 L441.8,497.8 L440.6,498.6 L439.4,499.4 L439.0,501.1 L438.5,502.8 L438.7,504.6 L438.5,506.3 L439.7,507.6 L439.7,509.4 L441.0,510.6 L441.1,512.4 L442.9,512.8 L444.4,513.8 L445.5,515.3 L447.2,515.9 L448.8,516.5 L449.9,517.9 L451.5,518.5 L452.6,519.6 L453.3,520.9 L454.0,522.1 L454.1,523.7 L453.8,525.4 L453.6,527.2 L454.1,528.9 L454.4,530.2 L453.9,531.5" fill="none" stroke="#2a0808" stroke-width="1.2" stroke-linejoin="round" stroke-linecap="round"/><path d="M405.5,474.2 L406.9,475.0 L407.5,476.6 L408.7,477.6 L409.9,478.6 L411.2,479.4 L412.7,480.0 L413.6,481.5 L415.1,482.0 L415.6,483.6 L416.8,484.7 L417.6,486.0 L418.5,487.3 L419.7,488.5 L420.8,489.8 L421.1,491.6 L421.8,490.1 L422.9,488.8 L423.7,487.3 L425.1,486.5 L426.8,487.3 L428.2,486.3 L429.8,486.4 L431.5,485.7 L433.2,485.2 L435.0,485.5 L435.3,487.2 L436.8,488.1" fill="none" stroke="#2a0808" stroke-width="1.2" stroke-linejoin="round" stroke-linecap="round"/><path d="M437.6,461.2 L438.6,460.1 L437.8,458.5 L438.6,457.3 L440.2,456.6 L441.8,458.0 L443.4,457.3 L444.8,456.9 L446.1,456.8 L447.5,457.5 L448.9,457.3 L450.4,456.6 L452.2,456.7 L453.6,455.7 L455.2,455.3 L456.8,456.3 L458.4,455.7 L459.9,454.9 L461.6,454.8 L463.1,454.1 L464.7,453.6 L465.6,452.3 L467.0,451.6 L467.8,450.2 L469.3,449.7 L470.2,448.1 L472.2,448.3 L473.3,447.0 L474.4,446.1 L475.1,444.8 L476.0,443.7 L477.3,443.0 L477.6,441.4 L477.1,439.9 L477.4,438.3 L477.0,436.7 L476.5,435.2 L477.5,433.8 L477.3,432.1 L477.9,430.5 L478.0,428.9 L479.4,428.5 L480.5,427.5 L482.0,427.3 L480.6,426.2 L478.8,426.5 L477.3,425.7 L477.1,424.0 L476.7,422.3 L475.7,420.9 L474.9,419.4 L473.9,418.0 L474.2,416.1 L473.4,414.6 L472.6,413.1 L472.3,411.5 L472.3,409.9 L473.2,408.4 L473.3,406.8 L471.7,406.8 L470.8,405.1 L469.2,405.0 L467.8,404.4 L466.0,404.2 L464.2,404.2 L462.5,403.7 L460.7,403.7 L460.2,402.1 L458.5,401.5 L457.6,400.2 L456.8,398.9 L457.1,397.3 L456.9,395.7 L457.5,394.2 L457.6,392.6 L458.4,391.1 L459.1,389.4 L460.1,388.0 L460.7,386.3 L460.2,384.7 L459.0,383.3 L459.6,381.3 L458.4,380.0 L458.0,378.8 L457.9,377.5 L459.6,377.5 L461.3,377.6 L463.0,378.5 L464.7,378.7 L466.4,378.2 L468.1,378.3" fill="none" stroke="#2a0808" stroke-width="1.2" stroke-linejoin="round" stroke-linecap="round"/><path d="M386.3,286.0 L387.8,286.9 L389.3,287.3 L390.9,287.5 L392.7,286.7 L394.2,287.6 L395.7,288.5 L397.4,289.1 L398.9,290.0 L400.5,290.8 L402.1,290.9 L403.4,291.5 L404.7,292.4 L406.0,293.0" fill="none" stroke="#2a0808" stroke-width="1.2" stroke-linejoin="round" stroke-linecap="round"/><path d="M441.8,430.0 L442.4,431.4 L443.1,432.7 L444.7,433.3 L444.6,435.2 L446.0,436.0 L447.5,435.3 L449.1,435.7 L450.5,434.6 L452.2,435.3 L453.6,434.2 L455.2,434.4" fill="none" stroke="#2a0808" stroke-width="1.2" stroke-linejoin="round" stroke-linecap="round"/><path d="M445.7,413.9 L447.2,413.3 L449.0,413.7 L450.5,413.2 L452.0,412.3" fill="none" stroke="#2a0808" stroke-width="1.2" stroke-linejoin="round" stroke-linecap="round"/><path d="M554.2,536.7 L552.4,536.7 L550.8,537.7 L549.0,537.6 L547.3,538.2 L545.5,537.9 L543.8,538.8 L542.0,538.4 L540.5,538.7 L539.2,539.4 L538.4,540.9 L536.8,541.0 L536.2,542.2 L536.0,543.6" fill="none" stroke="#2a0808" stroke-width="1.2" stroke-linejoin="round" stroke-linecap="round"/><path d="M399.2,562.3 L400.4,561.8 L401.5,561.1 L402.4,560.2" fill="none" stroke="#2a0808" stroke-width="1.2" stroke-linejoin="round" stroke-linecap="round"/><path d="M420.2,184.7 L418.9,186.0 L417.3,186.8 L415.5,187.1 L414.0,188.0 L412.9,189.1 L411.6,189.9 L410.0,190.2 L408.7,191.0 L407.5,192.0 L406.0,192.4" fill="none" stroke="#2a0808" stroke-width="1.2" stroke-linejoin="round" stroke-linecap="round"/><path d="M416.0,177.2 L414.5,177.5 L413.0,178.1 L411.4,177.8 L410.0,178.6 L408.5,178.2 L407.2,177.3 L405.7,176.8 L404.4,176.0" fill="none" stroke="#2a0808" stroke-width="1.2" stroke-linejoin="round" stroke-linecap="round"/><path d="M425.2,588.3 L425.1,586.5 L424.5,584.8 L424.6,583.0" fill="none" stroke="#2a0808" stroke-width="1.2" stroke-linejoin="round" stroke-linecap="round"/><path d="M396.6,597.9 L395.7,596.5 L395.7,595.0 L396.0,593.5" fill="none" stroke="#2a0808" stroke-width="1.2" stroke-linejoin="round" stroke-linecap="round"/><path d="M478.4,586.0 L476.7,585.8 L475.6,584.6" fill="none" stroke="#2a0808" stroke-width="1.2" stroke-linejoin="round" stroke-linecap="round"/><path d="M497.3,571.8 L496.6,570.2 L495.8,568.6" fill="none" stroke="#2a0808" stroke-width="1.2" stroke-linejoin="round" stroke-linecap="round"/><path d="M380.0,283.0 L379.3,284.4 L378.6,285.7 L377.7,286.9 L377.5,288.5" fill="none" stroke="#2a0808" stroke-width="1.2" stroke-linejoin="round" stroke-linecap="round"/><path d="M382.5,284.0 L382.0,285.4 L381.4,286.7 L381.0,288.1 L380.4,289.5 L380.5,291.0" fill="none" stroke="#2a0808" stroke-width="1.2" stroke-linejoin="round" stroke-linecap="round"/><path d="M361.0,244.6 L362.6,244.2 L364.4,245.0 L366.0,244.2" fill="none" stroke="#2a0808" stroke-width="1.2" stroke-linejoin="round" stroke-linecap="round"/><path d="M424.7,337.0 L424.8,335.5 L424.4,334.0" fill="none" stroke="#2a0808" stroke-width="1.2" stroke-linejoin="round" stroke-linecap="round"/><path d="M388.7,135.8 L390.6,135.8 L392.4,136.4 L394.2,136.6 L395.4,137.8 L396.2,139.3 L397.4,140.5 L398.8,139.8 L399.7,138.5 L401.3,138.1 L402.8,138.1 L403.7,139.5 L405.2,139.7 L406.6,140.6 L407.6,142.0 L408.7,141.0 L410.5,141.0 L411.5,139.7 L413.1,139.5 L414.7,139.8 L416.3,139.1 L417.9,139.0 L419.5,138.8 L421.0,137.9 L422.7,138.2 L424.2,137.7 L425.8,138.1 L427.4,137.6 L428.9,137.8 L430.5,137.4 L432.0,137.0 L433.0,135.7 L434.7,135.9 L436.0,135.0 L437.6,135.3 L439.2,135.2 L440.8,135.0 L442.3,135.8 L444.2,136.6 L446.2,136.6 L446.0,138.2 L445.5,139.7 L445.5,141.3 L444.5,142.4 L444.2,143.8 L443.9,145.2 L443.7,146.6 L444.6,147.8 L444.7,149.2 L443.3,150.6 L442.6,152.4 L441.5,153.9 L440.0,154.7 L438.8,155.9 L438.3,157.8 L436.8,158.6 L435.9,159.9 L434.6,160.9 L432.8,161.2 L432.0,162.6 L430.9,163.6 L429.6,164.4 L428.6,165.7 L427.3,166.5 L425.9,167.5 L424.6,168.6 L423.3,169.6 L421.8,170.5 L420.5,171.4 L419.3,172.4 L417.9,173.0 L417.0,174.4 L416.3,175.7 L415.5,176.9 L415.5,178.4 L416.8,179.9 L418.6,180.7 L420.0,181.0 L421.3,180.4 L422.6,180.0 L422.2,181.8 L420.6,182.9 L420.2,184.7 L418.7,186.0 L417.7,187.6 L417.0,189.4 L416.2,190.7 L415.2,192.0 L415.0,193.7 L413.9,194.9 L412.3,196.0 L411.2,197.5 L410.0,198.9 L408.8,199.9 L407.6,200.9 L406.0,201.2 L404.2,200.8 L402.5,201.2 L404.0,202.4 L406.0,202.6 L407.5,201.5 L409.5,201.6 L411.0,200.6 L412.1,199.2 L413.1,197.7 L414.4,196.5 L415.8,195.4 L417.5,195.0 L419.1,194.4 L420.2,192.8 L422.0,192.6 L423.6,192.3 L425.1,191.3 L426.9,191.7 L428.4,191.0 L429.8,190.1 L431.7,189.9 L433.0,188.7 L434.7,189.0 L436.3,188.2 L437.9,187.9 L439.2,189.2 L441.1,189.3 L442.6,190.3 L444.1,190.3 L445.2,191.4 L446.5,191.8 L447.6,190.5 L449.0,190.0 L450.5,189.5 L452.1,189.6 L453.6,190.0 L455.3,189.7 L456.8,190.3 L458.4,189.9 L459.9,191.1 L461.5,190.6 L463.0,191.0 L464.6,191.5 L466.2,191.3 L467.8,190.6 L469.4,190.7 L470.9,190.3 L472.5,189.9 L474.0,189.5 L475.6,190.2 L477.2,190.6 L478.9,191.0 L479.9,192.4 L480.9,193.8 L482.0,195.0 L482.0,197.0 L483.1,198.7 L483.6,200.5 L482.9,202.1 L481.8,203.5 L481.2,205.2 L480.4,207.0 L479.3,208.5 L478.0,210.0 L476.9,211.7 L477.0,213.7 L476.5,215.5 L475.9,217.3 L476.1,219.3 L475.0,221.0 L474.5,222.9 L473.8,224.6 L473.3,226.5 L473.1,228.6 L471.6,230.1 L471.0,232.0 L470.3,233.8 L470.4,235.9 L469.4,237.6 L468.3,238.7 L467.5,240.0 L466.3,241.0 L465.5,242.3 L464.6,243.7 L463.2,244.7 L462.3,246.2 L461.8,247.8 L462.3,249.5 L461.5,251.0 L460.6,252.7 L458.7,253.5 L457.6,255.0 L455.9,255.6 L455.1,257.2 L453.6,258.0 L452.1,258.5 L450.5,258.9 L448.9,259.3 L447.4,260.0 L445.7,260.3 L444.2,261.0 L442.6,261.5 L441.0,261.8 L439.8,262.9 L438.3,263.6 L437.0,264.6 L435.6,264.7 L434.3,264.5 L433.0,264.2 L434.5,265.2 L436.5,265.0 L437.9,266.2 L439.8,265.6 L441.8,265.2 L443.5,264.1 L445.3,263.3 L447.3,263.0 L448.9,263.0 L450.4,262.0 L452.0,262.0 L451.6,263.8 L450.5,265.2 L452.1,265.9 L453.5,266.9 L455.2,267.5 L456.6,268.0 L457.5,269.0 L458.4,270.0 L457.1,271.3 L455.2,271.9 L454.0,273.4 L452.5,274.1 L450.7,274.2 L449.5,275.6 L447.8,275.8 L446.7,276.9 L445.3,277.6 L443.9,278.4 L443.0,279.7 L441.5,280.8 L440.1,282.1 L438.4,282.9 L436.9,283.8 L435.2,283.9 L433.6,284.4 L432.0,284.5 L430.5,283.6 L428.9,283.7 L427.4,283.0 L425.7,283.5 L424.2,282.9 L425.6,283.6 L426.5,285.0 L428.0,285.6 L429.8,286.0 L431.7,286.4 L433.6,286.2 L435.2,286.2 L436.8,286.1 L438.4,286.4 L440.0,286.8 L441.6,286.9 L443.1,286.1 L444.6,286.0 L446.2,286.0 L447.7,284.9 L449.3,283.9 L451.0,282.9 L452.6,282.8 L454.1,283.4 L455.7,282.9 L457.5,283.6 L459.2,284.5 L460.4,286.0 L461.7,287.4 L463.3,288.4 L464.8,289.5 L466.7,290.0 L468.3,290.9 L469.6,292.4 L471.2,293.4 L473.0,293.9 L474.7,294.8 L476.0,296.3 L476.9,298.1 L478.0,299.7 L479.4,301.1 L480.7,302.6 L482.1,303.8 L483.6,304.8 L485.0,306.1 L486.2,307.4 L487.3,308.8 L488.3,310.3 L488.5,312.2 L489.4,313.7 L489.9,315.6 L489.4,317.6 L490.5,319.5 L490.2,321.5 L490.2,323.2 L490.9,324.7 L491.2,326.4 L491.7,328.0 L492.6,329.4 L492.6,331.1 L493.4,332.6 L494.5,334.0 L494.2,335.8 L494.9,337.3 L495.9,338.7 L496.3,340.4 L496.5,342.1 L497.3,343.6 L497.7,345.2 L498.2,346.7 L498.0,348.5 L498.9,349.9 L499.4,351.5 L500.3,353.0 L501.0,354.6 L501.3,356.3 L501.5,357.8 L502.5,359.0 L502.8,360.6 L503.7,361.8 L503.0,363.5 L502.0,365.0 L503.5,364.4 L505.2,364.5 L506.8,364.2 L508.3,365.0 L510.0,364.6 L511.4,365.7 L513.1,365.8 L514.5,367.0 L516.1,367.7 L517.7,368.5 L519.4,368.9 L521.1,369.4 L522.1,371.0 L523.3,372.3 L525.0,372.9 L526.2,374.0 L526.8,375.5 L527.6,376.9 L528.1,378.4 L528.9,379.8 L529.8,381.1 L530.5,382.5 L531.3,383.9 L532.4,385.5 L534.3,386.1 L535.2,387.9 L536.8,388.2 L538.2,389.1 L539.5,389.8 L540.7,391.0 L539.4,392.3 L537.6,392.6 L536.5,394.0 L536.1,395.6 L536.0,397.3 L537.1,398.7 L537.2,400.5 L538.0,401.9 L538.4,403.6 L539.6,405.1 L540.5,406.7 L541.2,408.5 L542.3,410.0 L543.2,411.4 L544.4,412.7 L545.5,413.9 L546.2,415.5 L547.4,416.7 L548.7,417.8 L549.4,419.4 L547.8,420.3 L546.3,419.0 L544.7,417.8 L543.2,417.1 L541.5,417.1 L540.0,416.6 L538.3,415.7 L537.1,414.3 L536.0,412.8 L534.6,412.7 L533.4,412.1 L532.0,412.0 L530.0,412.4 L528.4,413.6 L526.5,414.2 L524.7,413.6 L522.8,413.7 L521.0,413.6 L519.7,414.0 L518.4,414.5 L517.1,414.7 L519.1,415.0 L521.0,415.4 L522.8,415.9 L524.7,415.8 L526.5,416.2 L528.4,415.8 L530.2,414.8 L532.0,414.2 L533.7,414.4 L535.2,415.2 L536.2,416.5 L537.2,417.8 L538.4,418.9 L539.8,419.0 L540.7,420.0 L542.1,421.0 L543.5,422.0 L544.6,423.4 L546.2,424.1 L547.0,425.7 L548.7,426.4 L549.5,428.0 L551.0,428.9 L551.5,430.6 L552.8,431.9 L553.4,433.6 L554.1,435.2 L555.1,436.6 L554.9,438.5 L555.7,440.0 L556.5,441.5 L556.0,442.7 L556.4,443.9 L555.4,445.3 L554.9,446.9 L554.2,448.4 L553.8,450.0 L552.6,451.0 L551.9,452.5 L550.4,453.1 L549.4,454.3 L548.7,455.9 L547.4,456.9 L546.0,457.8 L547.2,459.2 L549.2,459.6 L550.3,461.2 L552.3,461.6 L554.0,462.5 L555.5,463.8 L556.5,465.4 L558.1,466.4 L558.3,464.5 L558.8,462.7 L559.9,461.2 L560.8,459.9 L560.6,458.2 L561.6,456.9 L563.5,456.4 L565.2,455.4 L566.8,454.3 L568.3,454.7 L569.8,454.8 L571.4,454.4 L572.9,454.3 L574.6,454.7 L576.3,453.7 L578.1,454.6 L579.8,454.3 L581.5,454.7 L583.2,455.4 L585.2,455.1 L586.8,456.0 L588.4,457.1 L590.0,458.2 L592.2,458.2 L593.7,459.5 L595.1,460.4 L596.1,461.6 L597.1,462.9 L598.8,463.4 L599.8,464.7 L601.0,465.9 L601.8,467.3 L602.3,468.9 L603.0,470.4 L604.1,471.6 L604.5,473.3 L604.8,475.1 L605.1,476.8 L605.4,478.5 L605.5,480.3 L605.3,482.1 L605.4,483.9 L604.7,485.5 L603.8,487.2 L604.1,489.0 L603.7,490.8 L602.8,492.4 L602.9,494.3 L601.8,495.9 L601.5,497.7 L600.4,498.8 L599.6,500.2 L598.9,501.6 L598.0,502.9 L596.9,504.2 L595.7,505.4 L594.4,506.5 L593.7,508.1 L593.2,510.0 L592.4,511.8 L590.8,513.1 L590.2,515.0 L588.8,516.1 L588.2,517.9 L587.2,519.3 L585.7,519.8 L584.1,519.9 L582.7,520.9 L581.1,521.0 L581.2,522.6 L581.0,524.1 L580.3,525.6 L580.2,527.1 L579.5,528.5 L578.8,529.9 L577.5,531.0 L576.8,532.4 L575.1,532.5 L573.8,533.9 L572.1,534.1 L570.7,535.0 L569.2,535.5 L567.5,535.4 L566.1,536.2 L564.6,536.7 L562.9,537.5 L561.2,538.0 L559.4,538.2 L557.5,538.3 L555.9,537.3 L554.2,536.8 L555.6,537.4 L557.0,538.0 L558.2,538.9 L559.4,539.8 L561.2,540.0 L562.8,540.9 L564.6,541.0 L566.2,540.0 L568.2,540.4 L569.8,539.3 L571.1,540.2 L572.3,541.1 L573.7,541.9 L575.0,542.8 L576.6,544.0 L578.3,544.9 L580.2,545.4 L582.0,545.0 L583.7,544.5 L585.5,544.3 L587.2,543.6 L589.0,543.8 L590.6,543.1 L592.4,543.3 L594.1,542.8 L595.5,543.4 L597.0,542.8 L598.4,542.8 L598.5,544.6 L598.2,546.3 L597.6,548.0 L597.0,549.7 L596.8,551.4 L596.7,553.2 L595.2,554.1 L594.2,555.5 L593.7,557.3 L592.4,558.4 L591.3,559.6 L590.0,560.3 L588.7,561.3 L587.2,561.8 L585.9,562.8 L584.6,563.8 L583.7,565.3 L582.9,566.7 L583.4,568.3 L582.8,569.7 L581.4,569.0 L579.8,569.5 L578.3,569.1 L576.8,568.8 L574.9,569.4 L573.5,571.0 L571.5,571.4 L570.0,572.7 L567.9,572.8 L566.3,574.0 L565.1,575.1 L563.8,575.9 L562.3,576.5 L561.1,577.5 L559.5,578.5 L558.6,580.2 L556.8,580.9 L555.2,580.4 L553.7,579.7 L552.2,579.0 L550.7,578.3 L548.9,578.2 L547.3,577.4 L545.7,576.5 L543.8,576.6 L542.0,576.7 L540.3,576.5 L538.5,577.1 L536.8,576.6 L535.1,577.1 L533.3,576.9 L531.7,577.7 L529.9,577.5 L528.1,577.5 L526.3,577.9 L524.8,579.2 L523.0,579.2 L521.3,580.1 L520.4,581.8 L518.9,581.1 L517.6,579.8 L516.0,579.2 L514.6,578.5 L512.9,578.7 L511.5,578.1 L510.0,577.7 L508.4,577.5 L506.8,577.1 L505.2,577.3 L503.4,576.3 L502.0,574.9 L500.6,573.6 L499.2,572.4 L497.3,571.8 L497.6,573.2 L498.3,574.4 L498.9,575.7 L498.2,577.1 L496.8,577.8 L495.7,578.9 L494.8,580.1 L493.4,580.8 L492.6,582.0 L491.0,581.8 L489.4,581.9 L487.8,582.0 L486.2,582.4 L484.6,581.8 L483.1,581.8 L481.5,582.0 L479.7,582.6 L477.8,582.1 L476.0,582.8 L476.7,584.0 L478.0,584.7 L478.4,586.0 L477.4,587.4 L477.7,589.3 L476.8,590.7 L475.2,590.6 L473.6,589.9 L472.0,589.9 L470.4,589.8 L468.9,589.8 L467.3,589.7 L465.7,589.9 L464.2,591.0 L462.7,592.2 L461.0,593.0 L460.2,592.0 L460.2,590.7 L458.3,590.1 L457.2,588.4 L455.5,587.5 L454.3,586.5 L452.8,585.9 L451.5,584.9 L450.0,584.4 L448.4,584.2 L446.8,583.9 L445.2,583.3 L443.7,582.8 L441.7,582.6 L439.8,583.7 L437.8,583.4 L435.8,583.6 L434.3,584.3 L432.6,584.1 L431.1,585.0 L429.5,585.2 L428.2,586.4 L426.7,587.4 L425.2,588.3 L424.6,589.7 L423.8,591.1 L423.5,592.7 L423.4,594.5 L422.5,596.1 L422.6,597.9 L422.1,599.3 L421.1,600.3 L420.0,601.3 L419.9,603.2 L419.3,604.9 L418.3,606.5 L417.1,607.8 L416.3,609.3 L415.7,610.9 L413.9,611.3 L412.2,610.9 L410.8,610.0 L409.8,608.6 L408.7,607.4 L407.1,606.6 L405.4,605.9 L403.5,605.7 L401.9,604.8 L400.1,604.4 L398.3,603.9 L397.5,602.5 L397.3,600.9 L396.7,599.5 L396.6,597.9 L395.4,599.0 L394.2,600.1 L393.1,601.3 L391.7,601.9 L390.1,602.0 L388.5,601.6 L387.1,602.2 L385.6,602.8 L384.1,601.8 L382.5,601.7 L381.0,602.2 L379.5,602.9 L378.9,604.5 L377.7,605.4 L376.6,606.5 L375.2,607.3 L373.9,608.1 L372.4,608.7 L371.4,610.0 L369.6,610.4 L368.0,611.4 L366.2,611.8 L365.5,613.5 L365.7,615.3 L365.4,617.0 L364.7,618.4 L363.9,619.8 L363.6,621.3 L362.2,622.7 L360.2,623.0 L359.6,621.4 L358.6,620.0 L357.6,618.7 L356.1,617.8 L354.7,616.9 L353.2,616.1 L351.5,616.7 L349.8,617.6 L348.0,617.8 L346.6,617.5 L345.0,617.8 L343.7,617.0 L343.3,615.2 L342.8,613.5 L344.1,612.5 L345.1,611.1 L346.3,610.0 L347.8,609.9 L349.4,610.1 L350.9,609.8 L352.4,609.1 L353.5,607.9 L355.2,607.7 L356.4,606.7 L357.6,605.7 L358.6,604.2 L360.1,603.4 L361.3,602.2 L362.8,601.3 L363.5,599.7 L365.0,598.7 L366.4,597.7 L367.1,596.1 L367.5,594.3 L368.7,592.8 L368.8,590.9 L370.6,590.2 L372.1,588.8 L374.0,588.3 L375.6,587.3 L376.7,585.8 L378.3,584.8 L379.2,583.1 L380.5,582.0 L381.6,580.7 L382.4,579.1 L383.6,577.9 L384.8,576.3 L385.8,574.7 L386.2,572.7 L386.9,571.2 L386.6,569.6 L387.2,568.2 L387.1,566.6 L388.8,566.2 L390.5,565.8 L392.2,565.3 L394.0,565.3 L395.7,565.8 L396.5,564.3 L397.8,563.2 L399.2,562.3 L398.5,560.6 L398.6,558.8 L398.3,557.1 L400.2,556.5 L401.8,555.4 L403.3,555.2 L404.8,554.9 L406.4,554.9 L407.9,554.5 L409.6,554.0 L411.3,554.0 L413.1,554.1 L414.8,553.6 L416.6,553.5 L418.3,553.2 L420.1,554.1 L421.8,553.6 L423.5,554.3 L425.3,554.3 L427.0,554.8 L428.7,555.4 L430.4,555.6 L432.1,555.9 L433.9,555.7 L435.6,556.2 L437.2,556.1 L438.4,556.8 L439.7,557.6 L440.4,556.1 L440.5,554.4 L440.3,552.5 L441.0,550.7 L441.3,548.9 L442.0,547.4 L443.1,546.1 L444.4,545.0 L445.3,543.5 L446.7,542.5 L447.7,541.1 L449.2,540.2 L450.0,538.6 L451.2,537.5 L452.4,536.4 L453.9,535.5 L454.9,533.9 L455.5,532.1 L456.4,530.5 L457.9,529.2 L459.0,527.8 L460.2,526.4 L461.6,525.2 L462.6,523.7 L462.5,522.3 L463.4,521.3 L462.5,522.6 L461.5,523.7 L460.8,525.2 L459.4,526.0 L457.7,526.9 L457.0,528.9 L455.5,530.0 L454.5,531.6 L452.9,532.6 L451.5,533.9 L450.2,535.3 L448.3,535.9 L446.8,537.1 L445.0,537.8 L443.3,538.5 L441.3,538.6 L440.2,539.7 L438.6,539.7 L437.4,540.6 L436.4,542.0 L434.8,542.7 L433.9,544.1 L432.2,544.1 L430.4,543.6 L428.7,544.3 L427.0,544.1 L425.1,543.5 L423.4,542.6 L421.9,541.1 L420.0,540.6 L419.0,539.2 L417.7,538.1 L416.4,537.0 L415.7,535.4 L415.0,533.6 L414.5,531.7 L413.1,530.2 L411.3,530.7 L409.8,531.9 L407.9,531.9 L406.3,533.1 L404.6,533.7 L402.8,534.2 L400.9,534.5 L398.9,534.1 L397.2,533.2 L395.7,531.9 L395.5,530.1 L395.3,528.3 L394.1,526.8 L394.0,525.0 L395.0,523.5 L395.0,521.7 L395.8,520.2 L396.0,518.5 L394.5,519.7 L393.4,521.2 L393.2,523.4 L391.6,524.6 L389.9,525.4 L388.1,525.6 L386.4,526.3 L384.4,526.7 L383.2,528.5 L381.3,529.1 L379.5,529.8 L377.7,529.6 L376.1,530.7 L374.3,530.5 L372.6,530.6 L373.8,529.6 L375.3,529.1 L376.8,528.5 L377.8,527.2 L376.3,526.0 L375.7,524.1 L374.3,522.8 L372.5,523.2 L370.7,523.7 L369.1,524.7 L367.4,525.4 L366.0,524.5 L364.3,524.7 L362.8,524.2 L361.3,523.7 L362.2,522.3 L363.8,521.6 L364.7,520.2 L365.6,518.5 L366.5,516.8 L364.7,516.5 L362.9,516.0 L361.3,515.0 L362.7,514.3 L364.0,513.4 L365.3,512.6 L366.5,511.5 L367.8,510.3 L369.4,509.2 L370.8,508.1 L372.5,507.4 L374.3,507.7 L376.0,507.2 L377.2,505.8 L379.0,505.4 L380.7,504.8 L382.1,503.7 L383.9,503.0 L385.4,501.5 L387.3,501.1 L388.7,500.2 L390.5,500.2 L391.9,499.3 L393.4,498.5 L394.9,498.0 L396.2,497.2 L397.3,495.9 L398.6,495.1 L400.0,494.3 L400.9,493.1 L401.7,491.7 L402.9,490.7 L403.6,488.9 L404.2,487.0 L405.5,485.5 L405.6,484.0 L406.5,482.5 L405.7,480.9 L406.4,479.4 L406.2,477.7 L405.3,476.0 L405.5,474.2 L405.6,472.3 L406.9,470.8 L407.3,469.0 L406.4,467.4 L405.6,465.7 L405.5,463.8 L405.4,462.0 L406.3,460.4 L406.4,458.6 L405.0,458.2 L403.4,458.6 L402.0,457.8 L400.6,458.5 L398.8,458.1 L397.6,459.4 L396.0,459.5 L394.7,460.3 L393.5,461.3 L391.9,461.8 L390.8,463.0 L389.0,463.4 L387.2,463.8 L385.6,464.7 L384.1,465.2 L382.8,466.2 L381.2,466.4 L381.7,464.8 L382.5,463.3 L383.8,462.1 L385.2,461.2 L385.8,459.4 L387.3,458.6 L388.4,457.0 L390.5,456.8 L391.6,455.2 L392.7,453.8 L394.5,453.4 L395.2,451.5 L396.8,450.8 L398.1,449.5 L399.2,448.0 L401.0,447.2 L402.0,445.6 L403.2,444.3 L404.3,442.9 L405.4,441.7 L406.6,440.4 L407.3,438.7 L409.0,437.9 L410.8,437.5 L412.5,436.6 L414.2,436.0 L416.1,436.2 L417.5,437.6 L419.4,437.8 L421.1,437.7 L422.9,437.7 L424.5,436.8 L426.3,436.9 L428.0,436.4 L429.8,435.9 L431.5,435.4 L432.7,436.5 L434.4,436.7 L435.5,438.0 L436.9,439.0 L438.1,440.3 L439.4,441.4 L438.4,439.7 L438.4,437.8 L437.8,436.0 L438.2,434.6 L438.0,433.2 L438.3,431.8 L439.6,431.3 L440.7,430.5 L441.8,429.7 L441.1,428.2 L440.8,426.6 L441.2,424.8 L440.2,423.4 L440.8,421.7 L441.7,420.2 L442.6,418.6 L443.2,416.8 L444.4,415.3 L445.7,413.9 L447.2,413.0 L449.0,413.5 L450.5,412.5 L449.0,411.7 L447.5,411.1 L445.9,410.4 L444.2,410.4 L442.6,410.0 L443.1,408.4 L442.6,406.9 L442.5,405.3 L442.6,403.7 L444.3,402.7 L445.5,401.4 L446.5,399.7 L447.6,398.5 L447.7,396.9 L448.6,395.7 L448.9,394.2 L449.1,392.6 L450.1,391.2 L450.4,389.6 L449.9,387.8 L450.5,386.3 L448.6,387.1 L447.3,388.7 L446.0,387.9 L444.9,386.9 L444.2,385.5 L443.2,386.7 L442.8,388.3 L441.8,389.5 L440.5,390.9 L439.1,392.3 L437.9,393.8 L436.5,393.9 L435.6,392.9 L435.6,391.0 L434.7,389.1 L434.6,387.2 L434.4,385.3 L433.3,384.2 L432.7,382.6 L431.8,381.4 L430.6,380.3 L429.5,378.7 L428.4,377.1 L428.0,375.2 L426.9,373.7 L426.1,372.1 L424.8,370.7 L424.3,368.9 L424.2,367.2 L425.2,365.8 L425.4,364.2 L425.5,362.6 L426.8,361.3 L427.5,359.8 L428.2,358.2 L428.4,356.5 L429.3,355.0 L430.1,353.1 L431.3,351.5 L432.6,350.0 L434.2,348.9 L435.8,347.9 L437.4,346.8 L439.0,346.4 L440.5,345.8 L442.2,346.0 L443.7,345.2 L444.2,343.9 L445.2,342.8 L446.0,341.6 L445.1,340.6 L443.7,340.5 L442.0,340.7 L440.6,341.9 L439.1,342.5 L437.4,342.8 L435.8,342.4 L434.2,343.4 L432.6,343.2 L431.0,342.8 L429.4,343.4 L427.8,344.0 L426.3,342.8 L426.1,341.2 L425.4,339.7 L424.9,338.1 L425.2,336.4 L425.6,338.2 L425.0,340.0 L425.4,341.8 L425.4,343.6 L424.0,344.7 L423.5,346.5 L421.7,347.0 L420.2,348.2 L418.3,348.5 L416.9,349.8 L415.6,351.4 L413.6,352.0 L411.9,352.1 L410.3,351.5 L410.2,352.7 L409.2,353.2 L407.8,353.0 L406.4,352.6 L404.9,351.3 L403.6,349.8 L401.7,349.1 L400.3,347.6 L399.0,346.2 L397.6,344.9 L398.6,346.7 L398.7,348.7 L399.4,349.9 L400.0,351.2 L400.3,352.6 L399.9,354.1 L400.4,355.5 L400.3,357.0 L399.3,357.6 L398.1,357.6 L396.2,357.2 L394.8,355.9 L393.6,354.6 L392.6,353.2 L391.3,351.7 L389.8,350.4 L388.3,349.1 L386.5,348.2 L384.9,347.4 L383.2,347.6 L381.8,348.4 L381.0,349.8 L381.6,351.1 L381.6,352.6 L382.4,354.0 L382.0,355.6 L382.7,357.0 L382.6,358.7 L383.2,360.3 L381.6,359.8 L380.8,358.1 L379.9,356.5 L379.9,354.9 L379.2,353.5 L378.8,352.0 L377.7,350.9 L376.6,349.7 L376.0,348.2 L374.8,347.2 L374.7,345.5 L373.8,344.3 L374.3,342.4 L373.8,340.5 L375.2,340.0 L376.0,338.8 L376.9,337.4 L378.1,336.2 L378.9,334.7 L380.1,333.5 L380.8,332.0 L381.3,330.5 L382.0,329.0 L382.7,327.6 L383.6,326.3 L384.1,324.7 L385.2,323.6 L385.7,321.9 L387.0,320.6 L387.6,318.9 L389.3,317.7 L390.0,315.7 L390.8,314.2 L391.4,312.5 L392.3,311.0 L391.6,309.2 L391.2,307.3 L390.7,305.5 L389.7,303.9 L388.1,302.9 L386.8,301.5 L386.5,299.9 L384.8,299.1 L384.4,297.6 L384.4,295.8 L384.8,294.1 L384.9,292.3 L385.2,290.5 L386.6,289.1 L387.2,287.3 L387.1,285.7 L386.8,284.3 L385.8,283.0 L385.9,281.2 L385.1,279.5 L385.7,277.7 L385.6,276.0 L385.0,277.3 L384.5,278.7 L384.0,280.0 L384.1,281.8 L383.4,283.5 L383.1,285.2 L383.4,287.0 L383.4,288.9 L382.3,290.4 L382.2,292.3 L381.6,294.0 L380.5,295.2 L379.4,296.5 L379.2,294.8 L378.7,293.3 L377.6,292.0 L377.7,290.5 L377.0,289.0 L377.8,287.5 L377.2,286.0 L376.1,284.9 L375.6,283.4 L375.0,282.0 L376.3,280.7 L376.8,278.8 L378.0,277.4 L378.8,276.0 L380.4,275.2 L381.4,274.0 L382.0,272.4 L383.0,270.9 L384.2,269.6 L385.4,268.4 L384.1,269.4 L382.7,270.3 L381.0,270.6 L380.1,271.9 L378.3,272.4 L378.0,274.3 L376.5,275.0 L375.4,276.7 L374.1,278.1 L372.5,279.3 L372.6,281.3 L371.7,283.1 L371.3,285.0 L370.9,286.7 L370.8,288.3 L371.1,290.0 L370.9,291.8 L371.0,293.7 L369.6,295.1 L369.4,297.2 L367.9,298.4 L367.5,300.1 L366.2,301.4 L366.6,303.3 L365.5,304.7 L365.5,306.3 L364.9,307.9 L364.8,309.5 L364.2,311.0 L363.9,312.6 L364.2,314.2 L363.8,315.8 L362.8,317.3 L363.1,318.9 L362.1,320.3 L360.2,320.6 L359.2,322.0 L357.8,322.1 L356.6,321.0 L355.2,321.3 L355.4,319.4 L355.4,317.6 L355.2,315.7 L355.3,314.0 L355.6,312.4 L356.9,311.1 L356.7,309.3 L357.6,307.9 L357.6,305.9 L358.6,304.2 L359.0,302.3 L358.3,300.2 L359.2,298.4 L360.1,296.7 L359.9,294.7 L360.1,292.8 L360.6,291.0 L360.7,289.6 L361.5,288.5 L362.2,287.3 L363.4,286.0 L363.2,284.1 L364.1,282.6 L364.5,280.8 L365.3,279.3 L366.5,277.9 L365.7,276.7 L365.7,275.3 L365.5,274.0 L366.3,272.2 L365.7,270.2 L366.5,268.4 L365.6,266.6 L366.0,264.5 L365.0,262.7 L366.3,261.2 L367.1,259.4 L367.4,257.4 L368.1,255.9 L369.1,254.6 L370.2,253.4 L371.6,252.4 L372.2,250.7 L373.2,249.4 L374.4,248.3 L375.0,246.7 L376.2,245.6 L376.5,244.0 L377.6,242.8 L378.6,241.6 L377.1,242.5 L376.0,243.8 L374.7,244.6 L373.8,245.9 L372.8,247.0 L371.7,248.2 L370.5,249.4 L369.4,250.6 L368.4,251.8 L367.2,252.8 L366.2,254.0 L364.6,255.0 L363.6,256.6 L362.0,256.0 L360.9,254.6 L359.4,253.8 L358.3,252.3 L356.9,251.2 L355.2,250.4 L353.8,249.5 L353.3,247.7 L351.8,247.0 L351.5,245.6 L350.4,244.6 L351.9,244.1 L353.5,244.4 L355.0,244.3 L356.5,244.4 L358.0,245.0 L359.8,244.5 L361.5,245.0 L360.3,243.9 L358.7,244.0 L357.4,243.4 L355.6,242.6 L353.6,242.6 L352.0,242.8 L350.4,242.6 L349.0,241.8 L348.5,240.7 L347.3,240.2 L349.0,240.0 L350.6,239.7 L352.0,238.6 L353.6,238.8 L355.2,238.6 L356.8,238.6 L357.8,237.6 L357.8,235.9 L359.0,235.0 L358.6,233.6 L358.0,232.2 L357.6,230.8 L357.7,229.1 L358.6,227.6 L359.0,226.0 L360.0,225.1 L361.2,224.5 L362.3,223.7 L362.4,222.1 L362.6,220.5 L363.0,219.0 L364.1,217.9 L365.5,217.1 L367.0,216.4 L367.8,215.0 L369.3,214.2 L370.3,213.0 L371.0,211.5 L370.6,209.5 L369.4,207.9 L367.7,207.5 L366.4,206.2 L364.5,206.4 L363.0,205.5 L362.1,203.8 L362.0,201.8 L361.5,200.0 L361.5,198.3 L360.8,196.6 L360.7,194.9 L361.8,193.8 L362.5,192.4 L364.1,191.7 L364.7,190.2 L364.1,188.9 L363.6,187.5 L363.1,186.2 L362.9,184.4 L363.0,182.5 L362.3,180.7 L363.6,179.7 L363.9,178.1 L364.7,176.8 L366.2,175.9 L367.9,175.3 L369.4,174.4 L370.7,172.9 L372.5,172.3 L374.1,171.3 L374.2,169.6 L373.9,168.0 L373.3,166.5 L374.3,164.8 L376.3,164.2 L377.3,162.6 L376.6,161.1 L376.8,159.3 L375.7,157.9 L377.3,157.3 L378.9,157.0 L380.3,155.7 L382.1,155.0 L383.6,153.9 L383.8,152.3 L383.0,150.8 L382.8,149.2 L384.2,148.4 L385.1,147.2 L386.0,146.0 L385.8,144.2 L385.8,142.3 L386.0,140.5 L386.8,138.9 L387.4,137.3 L388.3,135.8Z" fill="none" stroke="#2a0808" stroke-width="1.25" stroke-linejoin="round"/><ellipse cx="378.2" cy="343" rx="1.1" ry="1.4" fill="#fff" stroke="#2a0808" stroke-width="0.6"/><path d="M598.0,502.5 L593.0,504.0" fill="none" stroke="#2a0808" stroke-width="1.1" stroke-linecap="round" stroke-linejoin="round"/><path d="M594.0,506.0 L588.5,507.5 L584.0,511.0" fill="none" stroke="#2a0808" stroke-width="1.1" stroke-linecap="round" stroke-linejoin="round"/><path d="M590.3,515.0 L586.0,513.0" fill="none" stroke="#2a0808" stroke-width="1.1" stroke-linecap="round" stroke-linejoin="round"/><path d="M585.0,518.0 L580.8,518.0 L576.0,521.6" fill="none" stroke="#2a0808" stroke-width="1.1" stroke-linecap="round" stroke-linejoin="round"/><path d="M580.0,524.0 L574.0,524.5 L569.5,527.3" fill="none" stroke="#2a0808" stroke-width="1.1" stroke-linecap="round" stroke-linejoin="round"/><path d="M579.0,531.0 L574.0,532.0 L569.5,533.0" fill="none" stroke="#2a0808" stroke-width="1.1" stroke-linecap="round" stroke-linejoin="round"/><path d="M570.0,539.5 L565.0,542.5 L562.0,541.4" fill="none" stroke="#2a0808" stroke-width="1.1" stroke-linecap="round" stroke-linejoin="round"/><path d="M366.2,611.8 L364.5,607.5" fill="none" stroke="#2a0808" stroke-width="1.1" stroke-linecap="round" stroke-linejoin="round"/><path d="M371.4,610.0 L370.0,606.0" fill="none" stroke="#2a0808" stroke-width="1.1" stroke-linecap="round" stroke-linejoin="round"/><path d="M398.3,603.9 L397.0,599.0" fill="none" stroke="#2a0808" stroke-width="1.1" stroke-linecap="round" stroke-linejoin="round"/><path d="M393.0,601.0 L392.6,597.6" fill="none" stroke="#2a0808" stroke-width="1.1" stroke-linecap="round" stroke-linejoin="round"/><path d="M420.0,601.3 L417.6,599.6" fill="none" stroke="#2a0808" stroke-width="1.1" stroke-linecap="round" stroke-linejoin="round"/><path d="M415.7,610.9 L414.6,607.8" fill="none" stroke="#2a0808" stroke-width="1.1" stroke-linecap="round" stroke-linejoin="round"/><path d="M487.8,582.0 L486.0,579.6" fill="none" stroke="#2a0808" stroke-width="1.1" stroke-linecap="round" stroke-linejoin="round"/><path d="M492.6,582.0 L492.0,578.6" fill="none" stroke="#2a0808" stroke-width="1.1" stroke-linecap="round" stroke-linejoin="round"/><path d="M505.2,577.3 L506.0,574.4" fill="none" stroke="#2a0808" stroke-width="1.1" stroke-linecap="round" stroke-linejoin="round"/><path d="M511.5,578.1 L512.6,575.6" fill="none" stroke="#2a0808" stroke-width="1.1" stroke-linecap="round" stroke-linejoin="round"/><path d="M516.0,579.2 L517.4,576.8" fill="none" stroke="#2a0808" stroke-width="1.1" stroke-linecap="round" stroke-linejoin="round"/><path d="M502.0,574.9 L500.0,571.0" fill="none" stroke="#2a0808" stroke-width="1.1" stroke-linecap="round" stroke-linejoin="round"/><path d="M372.6,530.6 L376.0,528.2 L380.0,527.6" fill="none" stroke="#2a0808" stroke-width="1.1" stroke-linecap="round" stroke-linejoin="round"/><path d="M367.4,525.4 L371.0,523.6" fill="none" stroke="#2a0808" stroke-width="1.1" stroke-linecap="round" stroke-linejoin="round"/><path d="M364.7,520.2 L368.0,519.4" fill="none" stroke="#2a0808" stroke-width="1.1" stroke-linecap="round" stroke-linejoin="round"/><path d="M396.0,518.5 L397.5,514.5" fill="none" stroke="#2a0808" stroke-width="1.1" stroke-linecap="round" stroke-linejoin="round"/><path d="M406.4,479.4 L409.0,478.0" fill="none" stroke="#2a0808" stroke-width="1.1" stroke-linecap="round" stroke-linejoin="round"/><path d="M407.3,469.0 L410.4,468.2" fill="none" stroke="#2a0808" stroke-width="1.1" stroke-linecap="round" stroke-linejoin="round"/><path d="M405.5,463.8 L409.0,461.8" fill="none" stroke="#2a0808" stroke-width="1.1" stroke-linecap="round" stroke-linejoin="round"/><path d="M546.0,457.8 L543.6,459.6" fill="none" stroke="#2a0808" stroke-width="1.1" stroke-linecap="round" stroke-linejoin="round"/><path d="M555.5,463.8 L555.5,467.0" fill="none" stroke="#2a0808" stroke-width="1.1" stroke-linecap="round" stroke-linejoin="round"/><path d="M437.9,393.8 L438.5,389.5" fill="none" stroke="#2a0808" stroke-width="1.1" stroke-linecap="round" stroke-linejoin="round"/><path d="M441.8,389.5 L442.0,385.8" fill="none" stroke="#2a0808" stroke-width="1.1" stroke-linecap="round" stroke-linejoin="round"/><path d="M447.3,388.7 L448.6,384.6" fill="none" stroke="#2a0808" stroke-width="1.1" stroke-linecap="round" stroke-linejoin="round"/><path d="M503.7,361.8 L500.5,363.5" fill="none" stroke="#2a0808" stroke-width="1.1" stroke-linecap="round" stroke-linejoin="round"/><path d="M494.9,337.3 L492.4,338.0" fill="none" stroke="#2a0808" stroke-width="1.1" stroke-linecap="round" stroke-linejoin="round"/><path d="M383.6,153.9 L386.5,155.5" fill="none" stroke="#2a0808" stroke-width="1.1" stroke-linecap="round" stroke-linejoin="round"/><path d="M377.3,162.6 L381.0,164.0" fill="none" stroke="#2a0808" stroke-width="1.1" stroke-linecap="round" stroke-linejoin="round"/><path d="M374.1,171.3 L378.0,172.4" fill="none" stroke="#2a0808" stroke-width="1.1" stroke-linecap="round" stroke-linejoin="round"/><path d="M364.7,176.8 L368.5,179.0" fill="none" stroke="#2a0808" stroke-width="1.1" stroke-linecap="round" stroke-linejoin="round"/><path d="M363.1,186.2 L367.0,187.4" fill="none" stroke="#2a0808" stroke-width="1.1" stroke-linecap="round" stroke-linejoin="round"/><path d="M360.7,194.9 L365.0,196.6" fill="none" stroke="#2a0808" stroke-width="1.1" stroke-linecap="round" stroke-linejoin="round"/><path d="M363.0,205.5 L367.4,204.8" fill="none" stroke="#2a0808" stroke-width="1.1" stroke-linecap="round" stroke-linejoin="round"/><path d="M371.0,211.5 L375.0,213.0" fill="none" stroke="#2a0808" stroke-width="1.1" stroke-linecap="round" stroke-linejoin="round"/><path d="M367.8,215.0 L372.0,217.5" fill="none" stroke="#2a0808" stroke-width="1.1" stroke-linecap="round" stroke-linejoin="round"/><path d="M363.0,219.0 L367.0,221.6" fill="none" stroke="#2a0808" stroke-width="1.1" stroke-linecap="round" stroke-linejoin="round"/><path d="M359.0,226.0 L363.5,228.0" fill="none" stroke="#2a0808" stroke-width="1.1" stroke-linecap="round" stroke-linejoin="round"/><path d="M359.0,235.0 L363.6,236.0" fill="none" stroke="#2a0808" stroke-width="1.1" stroke-linecap="round" stroke-linejoin="round"/><path d="M386.0,146.0 L389.0,147.4" fill="none" stroke="#2a0808" stroke-width="1.1" stroke-linecap="round" stroke-linejoin="round"/><path d="M397.4,140.5 L398.0,144.6" fill="none" stroke="#2a0808" stroke-width="1.1" stroke-linecap="round" stroke-linejoin="round"/><path d="M407.6,142.0 L408.0,146.5" fill="none" stroke="#2a0808" stroke-width="1.1" stroke-linecap="round" stroke-linejoin="round"/><path d="M366.5,268.4 L370.0,267.0" fill="none" stroke="#2a0808" stroke-width="1.1" stroke-linecap="round" stroke-linejoin="round"/><path d="M365.5,274.0 L369.5,272.6" fill="none" stroke="#2a0808" stroke-width="1.1" stroke-linecap="round" stroke-linejoin="round"/><path d="M366.5,277.9 L370.5,276.4" fill="none" stroke="#2a0808" stroke-width="1.1" stroke-linecap="round" stroke-linejoin="round"/><path d="M378.0,277.4 L380.0,280.6" fill="none" stroke="#2a0808" stroke-width="1.1" stroke-linecap="round" stroke-linejoin="round"/><path d="M352.5,243.6 L356.0,243.8" fill="none" stroke="#2a0808" stroke-width="1.1" stroke-linecap="round" stroke-linejoin="round"/><path d="M345.7,254.4 L349.5,253.0" fill="none" stroke="#2a0808" stroke-width="1.1" stroke-linecap="round" stroke-linejoin="round"/><path d="M347.3,260.0 L351.4,259.4" fill="none" stroke="#2a0808" stroke-width="1.1" stroke-linecap="round" stroke-linejoin="round"/><path d="M343.4,195.7 L346.5,198.0" fill="none" stroke="#2a0808" stroke-width="1.1" stroke-linecap="round" stroke-linejoin="round"/><path d="M340.2,205.2 L343.6,203.4" fill="none" stroke="#2a0808" stroke-width="1.1" stroke-linecap="round" stroke-linejoin="round"/><path d="M347.3,213.1 L349.6,209.6" fill="none" stroke="#2a0808" stroke-width="1.1" stroke-linecap="round" stroke-linejoin="round"/><path d="M352.1,198.9 L349.0,199.6" fill="none" stroke="#2a0808" stroke-width="1.1" stroke-linecap="round" stroke-linejoin="round"/><path d="M327.6,171.3 L332.0,170.4" fill="none" stroke="#2a0808" stroke-width="1.1" stroke-linecap="round" stroke-linejoin="round"/><path d="M324.4,157.1 L329.0,158.8" fill="none" stroke="#2a0808" stroke-width="1.1" stroke-linecap="round" stroke-linejoin="round"/><path d="M342.6,168.9 L339.0,166.0" fill="none" stroke="#2a0808" stroke-width="1.1" stroke-linecap="round" stroke-linejoin="round"/><path d="M333.1,174.4 L336.0,171.8" fill="none" stroke="#2a0808" stroke-width="1.1" stroke-linecap="round" stroke-linejoin="round"/><path d="M352.1,139.7 L352.2,141.2 L352.8,142.5 L353.6,143.7 L353.4,145.3 L353.5,146.9 L353.4,148.5 L352.8,150.0 L352.1,151.3 L350.9,152.4 L350.5,153.9 L349.3,155.4 L348.0,156.8 L347.3,158.6 L346.4,159.9 L346.3,161.5 L345.3,162.7 L345.0,164.2 L344.5,165.9 L343.5,167.4 L342.6,168.9 L341.2,169.6 L339.7,170.1 L338.7,171.6 L337.1,172.0 L336.0,173.2 L334.4,173.5 L333.1,174.4 L331.5,175.2 L330.3,176.3 L329.2,177.6 L328.2,178.7 L327.0,179.6 L326.0,180.7 L324.7,180.1 L323.7,179.1 L323.9,177.5 L324.3,176.0 L324.4,174.4 L325.6,173.5 L326.5,172.3 L327.6,171.3 L326.2,170.1 L325.2,168.5 L323.7,167.3 L323.7,165.7 L323.6,164.1 L322.9,162.6 L323.8,160.9 L323.8,158.9 L324.4,157.1 L325.9,156.2 L327.2,155.1 L328.4,153.9 L329.7,153.3 L331.1,153.1 L332.3,152.3 L334.1,151.6 L335.7,150.5 L337.1,149.2 L338.5,148.3 L339.8,147.2 L341.2,146.2 L342.6,145.2 L344.2,144.2 L345.9,143.3 L347.3,142.1 L348.8,141.0 L350.5,140.5Z" fill="#fa403e" stroke="#2a0808" stroke-width="1.05" stroke-linejoin="round"/><path d="M364.7,211.8 L363.5,213.0 L362.2,214.2 L361.5,215.8 L360.5,217.5 L359.2,218.9 L357.8,220.3 L356.8,222.0 L355.4,223.1 L353.6,223.7 L353.6,222.4 L353.4,221.0 L353.6,219.7 L354.8,218.2 L356.1,216.8 L356.8,215.0 L358.4,214.3 L359.1,212.6 L360.7,211.8 L362.0,211.9 L363.4,211.7Z" fill="#fa403e" stroke="#2a0808" stroke-width="1.05" stroke-linejoin="round"/><path d="M345.7,247.4 L347.3,247.7 L348.9,248.2 L350.5,248.6 L351.6,249.9 L352.6,251.2 L353.6,252.6 L355.3,253.5 L357.1,254.2 L358.6,255.4 L359.3,256.6 L360.4,257.6 L361.3,258.6 L360.5,260.4 L360.0,262.3 L358.4,262.9 L356.9,263.5 L355.1,263.2 L353.6,263.9 L352.1,264.3 L350.4,264.0 L348.8,264.2 L347.3,264.7 L345.7,264.7 L344.1,265.1 L342.5,264.9 L341.0,265.5 L340.1,264.0 L338.6,263.0 L340.0,262.7 L341.2,261.9 L342.6,261.5 L344.1,260.7 L345.6,260.1 L347.3,260.0 L348.3,258.5 L349.0,256.8 L347.8,256.1 L346.6,255.4 L345.7,254.4 L344.9,252.9 L343.8,251.6 L342.6,250.5 L343.6,249.2 L344.2,247.6Z" fill="#fa403e" stroke="#2a0808" stroke-width="1.05" stroke-linejoin="round"/><path d="M338.6,241.8 L338.5,243.4 L337.9,244.9 L336.5,245.5 L335.4,246.6 L334.0,247.3 L332.8,248.3 L331.1,248.5 L330.0,249.7 L328.9,251.0 L327.5,251.9 L326.4,253.2 L325.2,254.4 L323.3,253.7 L321.3,253.6 L321.6,252.1 L321.3,250.5 L322.9,250.6 L324.4,250.8 L326.0,250.5 L327.3,249.7 L328.6,248.7 L329.5,247.4 L330.8,246.5 L332.0,245.5 L333.1,244.4 L334.1,243.3 L335.5,242.6 L337.1,242.4Z" fill="#fa403e" stroke="#2a0808" stroke-width="1.05" stroke-linejoin="round"/><path d="M345.8,286.6 L347.1,287.3 L347.9,288.6 L348.9,289.7 L348.3,291.5 L348.1,293.3 L348.1,295.2 L347.7,296.6 L347.4,298.0 L346.6,299.2 L345.8,300.7 L344.1,301.5 L343.4,303.1 L341.4,303.1 L339.5,303.9 L339.1,302.4 L338.6,300.8 L338.7,299.2 L337.0,299.0 L335.6,297.9 L333.9,297.6 L333.8,296.0 L334.0,294.5 L333.9,292.9 L334.8,291.7 L336.3,291.0 L337.1,289.7 L338.5,288.6 L340.2,288.1 L341.8,287.4 L343.1,286.9 L344.4,286.5Z" fill="#fa403e" stroke="#2a0808" stroke-width="1.05" stroke-linejoin="round"/><path d="M359.2,274.7 L360.1,276.2 L360.8,277.9 L359.8,279.5 L358.9,281.1 L357.6,282.5 L356.8,284.2 L356.2,285.7 L354.9,286.6 L353.9,287.8 L352.9,288.9 L351.7,290.0 L350.2,290.5 L348.9,291.3 L348.8,289.3 L348.1,287.4 L348.8,285.9 L349.8,284.8 L351.2,283.9 L352.1,282.6 L352.8,281.2 L354.1,280.3 L355.0,279.1 L356.0,277.9 L357.2,277.0 L358.3,276.0Z" fill="#fa403e" stroke="#2a0808" stroke-width="1.05" stroke-linejoin="round"/><path d="M371.8,300.0 L373.8,300.1 L375.7,300.8 L376.2,302.2 L377.2,303.4 L377.5,304.9 L378.1,306.3 L377.9,308.1 L377.7,310.0 L378.1,311.8 L377.0,312.8 L376.3,314.2 L375.0,315.0 L373.8,314.1 L372.4,313.7 L371.0,313.4 L370.2,311.6 L369.6,309.8 L369.1,307.9 L369.3,306.1 L369.2,304.2 L369.4,302.4 L370.4,301.0Z" fill="#fa403e" stroke="#2a0808" stroke-width="1.05" stroke-linejoin="round"/><path d="M399.7,374.0 L400.3,375.9 L399.7,377.8 L400.3,379.7 L400.1,381.5 L399.2,383.1 L398.4,384.7 L396.9,386.0 L395.7,387.4 L394.6,389.1 L393.1,390.4 L391.3,391.2 L389.6,392.3 L387.7,392.7 L385.8,392.3 L384.8,392.9 L383.9,393.5 L384.7,392.0 L385.9,390.8 L386.4,389.1 L387.1,387.5 L387.4,385.7 L388.3,384.1 L389.5,383.0 L389.9,381.4 L391.0,380.2 L392.1,379.0 L393.4,378.0 L394.2,376.5 L395.2,375.2 L396.7,375.0 L398.2,374.5Z" fill="#fa403e" stroke="#2a0808" stroke-width="1.05" stroke-linejoin="round"/><path d="M387.3,436.0 L388.3,434.4 L389.9,433.4 L390.8,431.7 L392.4,431.5 L393.7,430.5 L395.4,430.8 L396.8,430.0 L398.5,430.9 L399.7,432.4 L401.2,433.5 L402.7,434.6 L404.1,435.7 L405.5,436.9 L404.5,438.2 L403.1,439.1 L402.0,440.4 L400.5,441.5 L399.0,442.6 L397.7,443.9 L395.8,443.3 L394.2,442.1 L393.3,440.7 L391.9,439.9 L390.8,438.7 L389.4,438.1 L388.5,436.8Z" fill="#fa403e" stroke="#2a0808" stroke-width="1.05" stroke-linejoin="round"/><path d="M493.3,585.2 L494.5,584.0 L496.2,583.6 L497.4,582.4 L498.9,581.6 L500.5,581.4 L502.0,581.1 L503.6,581.1 L505.2,580.8 L506.8,581.7 L508.4,582.5 L509.9,583.6 L508.8,585.0 L508.2,586.7 L507.6,588.3 L506.1,588.9 L504.7,589.7 L503.3,590.5 L502.0,591.5 L500.5,590.3 L498.6,589.7 L497.3,588.3 L496.0,587.2 L494.9,585.9Z" fill="#fa403e" stroke="#2a0808" stroke-width="1.05" stroke-linejoin="round"/><path d="M438.1,108.6 L440.0,108.3 L441.9,107.9 L443.7,107.0 L445.3,106.3 L446.8,105.5 L448.4,106.7 L450.0,107.9 L449.5,109.8 L449.2,111.8 L449.9,113.1 L450.8,114.4 L451.5,115.7 L452.1,117.2 L453.2,118.3 L453.9,119.7 L452.9,121.1 L451.5,122.0 L450.2,121.6 L449.0,120.8 L447.6,120.5 L446.3,119.9 L445.1,119.3 L443.7,118.9 L442.0,119.5 L440.5,120.5 L439.7,119.1 L439.0,117.6 L438.5,116.0 L437.9,114.7 L437.8,113.4 L437.5,112.0 L437.8,110.3Z" fill="#fa403e" stroke="#2a0808" stroke-width="1.7" stroke-linejoin="round"/><path d="M436.6,121.3 L436.6,123.0 L435.8,124.4 L436.7,125.6 L437.6,126.8 L438.9,127.6 L440.1,126.8 L441.5,126.4 L442.9,126.0 L442.6,124.6 L441.9,123.4 L441.0,122.4 L439.6,121.7 L438.1,121.5Z" fill="#fa403e" stroke="#2a0808" stroke-width="1.7" stroke-linejoin="round"/><path d="M494.0,24.6 L493.0,26.0 L492.0,27.4 L491.3,28.9 L490.3,30.3 L489.1,31.6 L487.8,32.8 L489.2,33.7 L490.6,34.7 L492.2,35.3 L493.0,37.1 L493.4,39.1 L491.8,39.9 L490.1,40.4 L488.2,40.3 L486.5,41.0 L485.2,42.4 L484.6,44.2 L485.8,45.2 L486.3,46.7 L487.1,48.0 L488.6,48.6 L490.0,49.4 L491.5,49.8 L493.3,49.3 L494.7,48.0 L494.9,49.6 L494.9,51.2 L494.9,52.7 L495.3,54.3 L495.5,55.9 L495.4,57.5 L495.1,59.1 L494.7,60.6 L495.0,62.2 L495.4,63.7 L496.0,65.3 L496.0,66.9 L497.2,66.6 L497.9,65.6 L498.1,64.0 L498.9,62.5 L498.4,60.8 L499.1,59.3 L499.2,57.6 L499.7,56.1 L500.8,54.7 L501.0,53.0 L501.9,51.7 L502.9,50.5 L502.3,49.2 L501.6,48.0 L501.0,46.7 L501.0,44.7 L501.6,42.9 L502.4,41.7 L503.1,40.5 L503.5,39.1 L502.1,37.7 L500.4,36.6 L499.1,35.4 L497.9,34.1 L497.9,32.3 L496.9,30.7 L496.6,29.0 L496.7,27.5 L496.3,26.0 L496.0,24.6 L495.0,24.2Z" fill="#fa403e" stroke="#2a0808" stroke-width="1.7" stroke-linejoin="round"/><path d="M500.4,18.6 L502.2,18.5 L504.0,19.0 L504.3,20.7 L504.5,22.4 L505.2,24.0 L504.7,25.7 L504.8,27.4 L504.2,29.1 L504.0,30.8 L502.1,31.0 L500.2,30.4 L499.7,28.8 L499.9,27.2 L499.7,25.6 L499.8,24.0 L499.6,22.2 L500.5,20.4Z" fill="#fa403e" stroke="#2a0808" stroke-width="1.7" stroke-linejoin="round"/><path d="M507.6,11.8 L509.1,11.7 L510.5,12.4 L510.4,13.9 L510.7,15.5 L510.2,17.0 L509.2,18.6 L509.0,20.4 L507.9,20.1 L506.8,19.8 L507.1,18.2 L506.9,16.6 L507.2,15.0 L507.4,13.4Z" fill="#fa403e" stroke="#2a0808" stroke-width="1.7" stroke-linejoin="round"/><path d="M339.5,320.6 L341.5,320.5 L343.4,321.0 L343.0,322.6 L341.4,322.4 L339.8,322.2Z" fill="#fa403e" stroke="#2a0808" stroke-width="1.05" stroke-linejoin="round"/><g clip-path="url(#ca)"><rect x="394.5" y="428" width="14" height="18" fill="#fb9c9c"/></g><path d="M387.3,436.0 L388.3,434.4 L389.9,433.4 L390.8,431.7 L392.4,431.5 L393.7,430.5 L395.4,430.8 L396.8,430.0 L398.5,430.9 L399.7,432.4 L401.2,433.5 L402.7,434.6 L404.1,435.7 L405.5,436.9 L404.5,438.2 L403.1,439.1 L402.0,440.4 L400.5,441.5 L399.0,442.6 L397.7,443.9 L395.8,443.3 L394.2,442.1 L393.3,440.7 L391.9,439.9 L390.8,438.7 L389.4,438.1 L388.5,436.8Z" fill="none" stroke="#2a0808" stroke-width="0.9" stroke-linejoin="round"/><path d="M345.7,185.5 L347.4,186.5 L348.9,187.8 L349.9,189.2 L350.0,191.0 L350.5,192.6 L350.5,194.3 L351.1,195.8 L351.6,197.4 L352.1,198.9 L352.7,200.5 L353.4,202.0 L354.2,203.5 L354.4,205.2 L355.7,206.6 L357.3,207.6 L358.4,209.1 L360.0,209.9 L361.4,210.9 L363.1,211.5 L361.9,211.3 L360.7,211.8 L359.8,213.4 L358.4,214.6 L356.8,215.0 L355.2,214.6 L353.6,214.9 L352.2,216.1 L350.5,216.2 L349.6,214.9 L348.5,214.0 L347.3,213.1 L346.1,211.6 L344.9,210.1 L344.2,208.3 L342.8,207.4 L341.3,206.6 L340.2,205.2 L339.1,204.1 L337.5,203.7 L336.3,202.8 L335.0,201.7 L333.6,200.8 L332.3,199.7 L332.4,198.3 L332.9,197.0 L333.1,195.7 L334.5,195.3 L335.9,195.0 L337.1,194.1 L338.1,195.8 L339.4,197.3 L340.6,196.5 L342.1,196.3 L343.4,195.7 L343.6,194.1 L343.8,192.6 L343.3,191.0 L343.4,189.4 L344.0,188.0 L344.6,186.6Z" fill="#fb9c9c" stroke="#2a0808" stroke-width="1.05" stroke-linejoin="round"/><path d="M320.5,181.5 L321.9,182.4 L322.9,183.7 L324.2,184.7 L323.8,186.4 L323.8,188.1 L323.4,189.8 L321.9,190.7 L320.5,191.7 L319.4,193.0 L319.0,194.5 L318.3,195.9 L317.9,197.4 L317.4,198.9 L317.7,200.5 L316.8,202.0 L316.6,203.6 L316.6,205.2 L316.8,206.7 L317.4,208.0 L316.4,209.4 L316.5,211.1 L315.5,212.6 L316.0,214.4 L315.0,215.8 L314.3,217.2 L312.9,218.0 L312.3,219.6 L311.0,220.5 L310.0,222.0 L308.6,223.2 L308.0,225.0 L306.7,226.5 L306.2,228.3 L305.4,230.1 L304.0,231.5 L302.7,232.6 L301.6,234.0 L301.8,232.5 L301.6,231.0 L302.2,229.1 L302.9,227.3 L303.7,225.5 L304.8,223.9 L305.5,222.0 L306.5,220.6 L307.0,218.8 L308.3,217.5 L309.0,215.9 L309.5,214.2 L310.0,212.7 L309.7,211.1 L310.6,209.6 L310.3,208.0 L310.8,206.5 L311.4,205.0 L311.5,203.4 L312.0,202.0 L312.2,200.4 L312.6,198.9 L311.9,197.1 L311.1,195.2 L310.0,193.6 L309.9,191.8 L308.8,190.2 L308.6,188.4 L310.2,187.2 L311.3,185.6 L312.6,184.2 L314.1,183.2 L315.7,182.6 L317.4,182.0 L318.9,181.4Z" fill="#fb9c9c" stroke="#2a0808" stroke-width="1.5" stroke-linejoin="round"/><path d="M340.2,223.0 L341.8,222.3 L343.5,221.8 L345.2,222.5 L346.5,223.8 L346.4,225.4 L346.4,227.0 L344.8,227.5 L343.4,228.6 L341.8,228.0 L340.6,226.8 L340.2,224.9Z" fill="#fb9c9c" stroke="#2a0808" stroke-width="1.05" stroke-linejoin="round"/><ellipse cx="496.5" cy="40" rx="1.2" ry="3" fill="#3a1414"/><ellipse cx="493" cy="44.5" rx="2.2" ry="1" fill="#3a1414"/><ellipse cx="498" cy="52" rx="0.9" ry="3.2" fill="#3a1414"/><ellipse cx="491" cy="31.5" rx="1.6" ry="0.9" fill="#3a1414"/><ellipse cx="499.5" cy="33" rx="1" ry="2" fill="#3a1414"/><ellipse cx="503.5" cy="44" rx="1.6" ry="1" fill="#3a1414"/><ellipse cx="505" cy="38" rx="1.3" ry="0.8" fill="#3a1414"/><ellipse cx="444" cy="112" rx="1.2" ry="2.2" fill="#3a1414"/><ellipse cx="447.5" cy="116" rx="2" ry="0.9" fill="#3a1414"/><ellipse cx="449.5" cy="103.5" rx="1.6" ry="1.2" fill="#3a1414"/><ellipse cx="456" cy="99.5" rx="2.2" ry="1" fill="#3a1414"/><ellipse cx="455.5" cy="105" rx="1.2" ry="1.6" fill="#3a1414"/><ellipse cx="316" cy="196" rx="1" ry="2.4" fill="#3a1414"/><ellipse cx="314.5" cy="204" rx="1" ry="2" fill="#3a1414"/><ellipse cx="318" cy="188" rx="2" ry="1" fill="#3a1414"/><ellipse cx="311" cy="212" rx="0.9" ry="2" fill="#3a1414"/><ellipse cx="487.4" cy="86" rx="1.2" ry="1.2" fill="#3a1414"/><ellipse cx="474.5" cy="51.7" rx="1.2" ry="1.3" fill="#3a1414"/><ellipse cx="511" cy="36" rx="1.3" ry="1" fill="#3a1414"/><ellipse cx="508.6" cy="25.9" rx="1.2" ry="1" fill="#3a1414"/><ellipse cx="505.5" cy="33" rx="1" ry="1" fill="#3a1414"/><ellipse cx="446.5" cy="96.5" rx="2.6" ry="1.6" fill="#3a1414"/><ellipse cx="452" cy="101" rx="2.6" ry="2.4" fill="#3a1414"/><ellipse cx="463" cy="97" rx="2.8" ry="1.6" fill="#3a1414"/><ellipse cx="459.5" cy="109" rx="2" ry="2" fill="#3a1414"/><ellipse cx="452.5" cy="113" rx="1.5" ry="2" fill="#3a1414"/><ellipse cx="449.5" cy="128" rx="1" ry="2.6" fill="#3a1414"/><ellipse cx="443" cy="134" rx="1.2" ry="1" fill="#3a1414"/><ellipse cx="348.9" cy="230.4" rx="1.6" ry="2" fill="#3a1414"/><ellipse cx="345.8" cy="234" rx="1" ry="1" fill="#3a1414"/><ellipse cx="337.5" cy="221.3" rx="2" ry="0.8" fill="#3a1414"/><ellipse cx="343.8" cy="277.6" rx="2.4" ry="3.4" fill="#3a1414"/><ellipse cx="358" cy="290.5" rx="0.6" ry="2.4" fill="#3a1414"/><ellipse cx="381.8" cy="555.7" rx="1" ry="1.2" fill="#3a1414"/><ellipse cx="309.8" cy="149.6" rx="1.4" ry="0.8" fill="#3a1414"/><ellipse cx="363.5" cy="267.5" rx="1.2" ry="3.5" fill="#3a1414"/><ellipse cx="364.5" cy="276.5" rx="1" ry="2.5" fill="#3a1414"/><ellipse cx="351.5" cy="152.5" rx="1.6" ry="1" fill="#3a1414"/><path d="M524.0,137.6 L535.85,119.6 L547.7,137.6Z" fill="#7d1210"/><rect x="524.0" y="137.6" width="23.700000000000045" height="18.0" fill="#fb3f3f"/><rect x="524.0" y="155.4" width="23.700000000000045" height="17.9" fill="#fd9a9a"/><rect x="524.0" y="173.1" width="23.700000000000045" height="17.6" fill="#fdcfcf"/><rect x="524.0" y="190.5" width="23.700000000000045" height="17.8" fill="#ffffff"/><rect x="524.0" y="208.1" width="23.700000000000045" height="18.0" fill="#ccccfd"/><rect x="524.0" y="225.9" width="23.700000000000045" height="18.0" fill="#9a9af8"/><rect x="524.0" y="243.7" width="23.700000000000045" height="17.0" fill="#4060f6"/><path d="M524.0,260.5 L535.85,277.5 L547.7,260.5Z" fill="#0b0b8c"/><path d="M524.0,137.6 L535.85,119.6 L547.7,137.6 L547.7,260.5 L535.85,277.5 L524.0,260.5Z" fill="none" stroke="#3c3c3c" stroke-width="0.7"/><path d="M547.7,137.6 h2.4" stroke="#222" stroke-width="0.8"/><path d="M547.7,155.4 h2.4" stroke="#222" stroke-width="0.8"/><path d="M547.7,173.1 h2.4" stroke="#222" stroke-width="0.8"/><path d="M547.7,190.5 h2.4" stroke="#222" stroke-width="0.8"/><path d="M547.7,208.1 h2.4" stroke="#222" stroke-width="0.8"/><path d="M547.7,225.9 h2.4" stroke="#222" stroke-width="0.8"/><path d="M547.7,243.7 h2.4" stroke="#222" stroke-width="0.8"/><path d="M547.7,260.5 h2.4" stroke="#222" stroke-width="0.8"/></svg>
<svg width="634" height="80" viewBox="0 0 634 80" style="position:absolute;left:0;top:0"><path d="M39.60,39.08 L40.47,38.61 L41.34,38.21 L42.21,37.80 L43.08,37.38 L43.95,36.95 L44.82,36.52 L45.69,36.09 L46.56,35.67 L47.43,35.26 L48.30,34.88 L49.17,34.52 L50.04,34.20 L50.91,33.92 L51.78,33.67 L52.65,33.47 L53.52,33.32 L54.39,33.22 L55.26,33.16 L56.13,33.15 L57.00,33.18 L57.87,33.25 L58.74,33.36 L59.61,33.51 L60.48,33.67 L61.35,33.86 L62.22,34.06 L63.09,34.27 L63.96,34.48 L64.83,34.67 L65.70,34.86 L66.57,35.02 L67.44,35.16 L68.31,35.27 L69.18,35.35 L70.05,35.34 L70.92,35.29 L71.79,35.18 L72.66,35.04 L73.53,34.85 L74.40,34.62 L74.40,37.22 L73.53,37.45 L72.66,37.64 L71.79,37.78 L70.92,37.89 L70.05,37.94 L69.18,37.97 L68.31,37.99 L67.44,37.97 L66.57,37.91 L65.70,37.82 L64.83,37.70 L63.96,37.56 L63.09,37.40 L62.22,37.24 L61.35,37.08 L60.48,36.92 L59.61,36.78 L58.74,36.65 L57.87,36.55 L57.00,36.48 L56.13,36.44 L55.26,36.44 L54.39,36.49 L53.52,36.57 L52.65,36.69 L51.78,36.85 L50.91,37.05 L50.04,37.28 L49.17,37.55 L48.30,37.84 L47.43,38.15 L46.56,38.47 L45.69,38.81 L44.82,39.14 L43.95,39.46 L43.08,39.76 L42.21,40.05 L41.34,40.29 L40.47,40.49 L39.60,40.56Z" fill="#1c1c1c"/><path d="M39.60,43.22 L40.47,42.68 L41.34,42.21 L42.21,41.75 L43.08,41.30 L43.95,40.86 L44.82,40.44 L45.69,40.05 L46.56,39.68 L47.43,39.34 L48.30,39.05 L49.17,38.79 L50.04,38.58 L50.91,38.42 L51.78,38.30 L52.65,38.24 L53.52,38.21 L54.39,38.24 L55.26,38.30 L56.13,38.40 L57.00,38.53 L57.87,38.69 L58.74,38.87 L59.61,39.06 L60.48,39.26 L61.35,39.45 L62.22,39.64 L63.09,39.81 L63.96,39.97 L64.83,40.10 L65.70,40.19 L66.57,40.26 L67.44,40.28 L68.31,40.27 L69.18,40.22 L70.05,40.08 L70.92,39.89 L71.79,39.66 L72.66,39.40 L73.53,39.09 L74.40,38.77 L74.40,41.37 L73.53,41.69 L72.66,42.00 L71.79,42.26 L70.92,42.49 L70.05,42.68 L69.18,42.83 L68.31,42.99 L67.44,43.09 L66.57,43.14 L65.70,43.15 L64.83,43.12 L63.96,43.05 L63.09,42.95 L62.22,42.82 L61.35,42.67 L60.48,42.50 L59.61,42.33 L58.74,42.16 L57.87,41.99 L57.00,41.83 L56.13,41.70 L55.26,41.59 L54.39,41.51 L53.52,41.46 L52.65,41.45 L51.78,41.48 L50.91,41.55 L50.04,41.66 L49.17,41.82 L48.30,42.01 L47.43,42.23 L46.56,42.48 L45.69,42.76 L44.82,43.06 L43.95,43.37 L43.08,43.68 L42.21,43.99 L41.34,44.29 L40.47,44.55 L39.60,44.71Z" fill="#1c1c1c"/><path d="M39.60,47.17 L40.47,46.59 L41.34,46.12 L42.21,45.67 L43.08,45.25 L43.95,44.87 L44.82,44.52 L45.69,44.21 L46.56,43.94 L47.43,43.72 L48.30,43.55 L49.17,43.42 L50.04,43.34 L50.91,43.31 L51.78,43.33 L52.65,43.38 L53.52,43.47 L54.39,43.59 L55.26,43.74 L56.13,43.91 L57.00,44.09 L57.87,44.27 L58.74,44.46 L59.61,44.64 L60.48,44.80 L61.35,44.94 L62.22,45.06 L63.09,45.15 L63.96,45.20 L64.83,45.22 L65.70,45.19 L66.57,45.13 L67.44,45.02 L68.31,44.88 L69.18,44.70 L70.05,44.44 L70.92,44.14 L71.79,43.81 L72.66,43.46 L73.53,43.09 L74.40,42.71 L74.40,45.31 L73.53,45.69 L72.66,46.06 L71.79,46.41 L70.92,46.74 L70.05,47.04 L69.18,47.31 L68.31,47.59 L67.44,47.83 L66.57,48.01 L65.70,48.15 L64.83,48.24 L63.96,48.29 L63.09,48.28 L62.22,48.24 L61.35,48.16 L60.48,48.05 L59.61,47.91 L58.74,47.75 L57.87,47.57 L57.00,47.39 L56.13,47.20 L55.26,47.03 L54.39,46.86 L53.52,46.72 L52.65,46.60 L51.78,46.50 L50.91,46.45 L50.04,46.43 L49.17,46.45 L48.30,46.51 L47.43,46.61 L46.56,46.75 L45.69,46.93 L44.82,47.14 L43.95,47.37 L43.08,47.64 L42.21,47.91 L41.34,48.20 L40.47,48.47 L39.60,48.66Z" fill="#1c1c1c"/><path d="M39.60,51.09 L40.47,50.55 L41.34,50.12 L42.21,49.75 L43.08,49.42 L43.95,49.14 L44.82,48.90 L45.69,48.71 L46.56,48.58 L47.43,48.49 L48.30,48.44 L49.17,48.45 L50.04,48.49 L50.91,48.57 L51.78,48.68 L52.65,48.82 L53.52,48.97 L54.39,49.14 L55.26,49.32 L56.13,49.50 L57.00,49.66 L57.87,49.82 L58.74,49.95 L59.61,50.06 L60.48,50.14 L61.35,50.18 L62.22,50.18 L63.09,50.15 L63.96,50.07 L64.83,49.95 L65.70,49.80 L66.57,49.60 L67.44,49.38 L68.31,49.12 L69.18,48.84 L70.05,48.50 L70.92,48.13 L71.79,47.76 L72.66,47.38 L73.53,47.00 L74.40,46.64 L74.40,49.24 L73.53,49.60 L72.66,49.98 L71.79,50.36 L70.92,50.73 L70.05,51.10 L69.18,51.46 L68.31,51.84 L67.44,52.18 L66.57,52.49 L65.70,52.76 L64.83,52.98 L63.96,53.15 L63.09,53.28 L62.22,53.36 L61.35,53.39 L60.48,53.38 L59.61,53.33 L58.74,53.24 L57.87,53.12 L57.00,52.96 L56.13,52.79 L55.26,52.61 L54.39,52.41 L53.52,52.22 L52.65,52.03 L51.78,51.86 L50.91,51.70 L50.04,51.57 L49.17,51.47 L48.30,51.40 L47.43,51.37 L46.56,51.38 L45.69,51.43 L44.82,51.52 L43.95,51.64 L43.08,51.80 L42.21,51.99 L41.34,52.21 L40.47,52.43 L39.60,52.58Z" fill="#1c1c1c"/></svg>
<div class="abs" style="left:0;top:0;width:634px;height:1px;background:#e2e9ec"></div>
<div id="mo" class="abs">Met Office</div>
<div class="tk" style="top:133.3px">1.5</div><div class="tk" style="top:151.1px">1.0</div><div class="tk" style="top:168.8px">0.5</div><div class="tk" style="top:186.2px">0.2</div><div class="tk" style="top:203.8px">−0.2</div><div class="tk" style="top:221.6px">−0.5</div><div class="tk" style="top:239.4px">−1.0</div><div class="tk" style="top:256.2px">−1.5</div>
<div id="an" class="abs">Anomaly</div><div id="an2" class="abs">value (°C)</div>
<div id="t1" class="abs">Mean</div>
<div id="t2" class="abs">temperature</div>
<div id="t3" class="abs">2025 until December 21</div>
<div id="t4" class="abs">1991-2020 anomaly</div>
<div id="cp" class="abs"><span>© Met Office</span></div>
</body></html>
